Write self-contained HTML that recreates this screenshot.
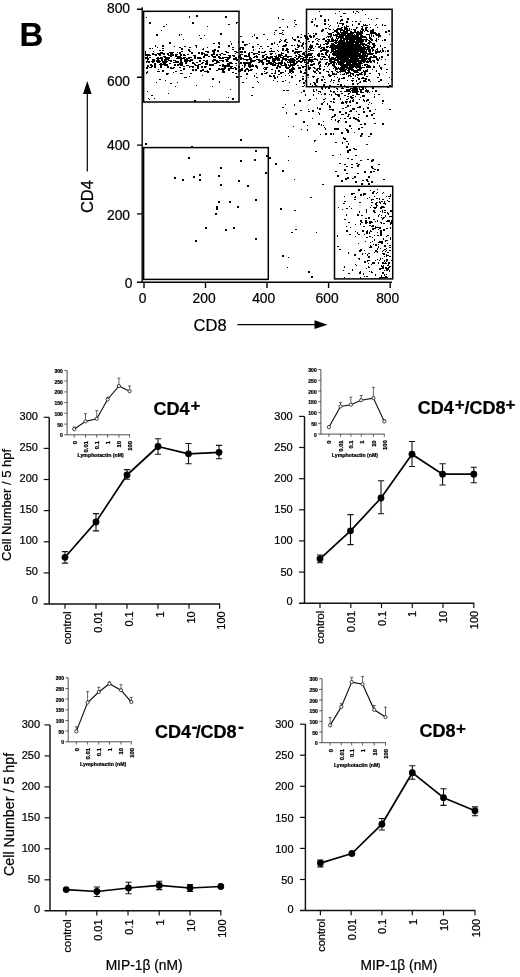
<!DOCTYPE html>
<html><head><meta charset="utf-8"><title>Figure B</title>
<style>
html,body{margin:0;padding:0;background:#fff;}
body{width:520px;height:977px;overflow:hidden;}
svg{display:block;}
text{font-family:"Liberation Sans", Arial, Helvetica, sans-serif;fill:#000;stroke:#000;stroke-width:0.22px;}
</style></head><body>
<svg width="520" height="977" viewBox="0 0 520 977">
<rect width="520" height="977" fill="#fff"/>
<path d="M142.2 7.2V282.8 M137 282.2H392 M137 9.3H142.2 M137 77.3H142.2 M137 145.1H142.2 M137 213.9H142.2" stroke="#000" stroke-width="1.4" fill="none"/>
<path d="M144 282V288 M205.5 282V288 M267 282V288 M328.6 282V288 M390.2 282V288" stroke="#000" stroke-width="1.4" fill="none"/>
<rect x="143.6" y="11.3" width="95.4" height="90.7" fill="none" stroke="#000" stroke-width="1.5"/>
<rect x="306.5" y="9.3" width="85.6" height="77.4" fill="none" stroke="#000" stroke-width="1.5"/>
<rect x="143.6" y="147.6" width="124.7" height="131.8" fill="none" stroke="#000" stroke-width="1.5"/>
<rect x="334.5" y="186.3" width="58.2" height="92.6" fill="none" stroke="#000" stroke-width="1.5"/>
<text x="130" y="13.4" text-anchor="end" font-size="13.8">800</text>
<text x="130" y="85.5" text-anchor="end" font-size="13.8">600</text>
<text x="130" y="149.6" text-anchor="end" font-size="13.8">400</text>
<text x="130" y="219.6" text-anchor="end" font-size="13.8">200</text>
<text x="132.5" y="288.2" text-anchor="end" font-size="13.8">0</text>
<text x="142.6" y="302.6" text-anchor="middle" font-size="13.8">0</text>
<text x="204.1" y="302.6" text-anchor="middle" font-size="13.8">200</text>
<text x="263.7" y="302.6" text-anchor="middle" font-size="13.8">400</text>
<text x="327.1" y="302.6" text-anchor="middle" font-size="13.8">600</text>
<text x="387.7" y="302.6" text-anchor="middle" font-size="13.8">800</text>
<text x="210.1" y="331.4" text-anchor="middle" font-size="16.5">CD8</text>
<path d="M237.5 324.7H316" stroke="#000" stroke-width="1.2"/>
<path d="M314.5 320.3L327.5 324.7L314.5 329.1Z" fill="#000"/>
<text transform="translate(93.3 196.6) rotate(-90)" text-anchor="middle" font-size="16.5">CD4</text>
<path d="M87.3 92V171.5" stroke="#000" stroke-width="1.2"/>
<path d="M83 94L87.3 81L91.6 94Z" fill="#000"/>
<text x="19.4" y="45.7" font-size="33" font-weight="bold">B</text>
<path d="M338 54h2v2h-2zM338 53h2v1h-2zM354 61h2v1h-2zM351 46h1v1h-1zM365 60h1v2h-1zM376 58h2v2h-2zM342 38h1v1h-1zM361 51h1v1h-1zM352 57h1v1h-1zM339 52h2v2h-2zM336 48h2v1h-2zM344 40h1v1h-1zM382 50h2v2h-2zM347 41h1v1h-1zM349 54h1v2h-1zM334 62h1v1h-1zM368 45h1v1h-1zM355 72h2v1h-2zM359 49h1v1h-1zM338 37h1v1h-1zM357 55h2v2h-2zM350 45h1v1h-1zM352 52h1v2h-1zM355 62h1v1h-1zM355 65h1v1h-1zM346 46h1v1h-1zM351 58h2v2h-2zM352 42h2v2h-2zM352 60h2v2h-2zM347 46h2v2h-2zM351 58h1v2h-1zM346 58h1v1h-1zM360 57h1v1h-1zM342 44h2v1h-2zM360 47h2v1h-2zM354 45h1v1h-1zM365 40h1v1h-1zM355 66h2v2h-2zM357 74h2v2h-2zM341 44h1v1h-1zM374 56h1v1h-1zM347 42h2v2h-2zM343 45h1v1h-1zM349 46h1v1h-1zM332 43h2v1h-2zM345 72h1v1h-1zM357 51h1v1h-1zM355 52h1v1h-1zM345 48h1v1h-1zM371 32h1v2h-1zM345 37h1v1h-1zM351 50h2v2h-2zM342 25h1v1h-1zM342 41h1v2h-1zM334 86h1v1h-1zM334 45h2v2h-2zM348 34h1v2h-1zM357 45h1v2h-1zM366 38h1v1h-1zM354 30h2v1h-2zM343 43h2v1h-2zM346 47h2v1h-2zM370 49h1v2h-1zM337 61h2v1h-2zM332 57h1v1h-1zM350 47h2v1h-2zM342 51h1v2h-1zM336 50h2v2h-2zM349 52h1v1h-1zM347 44h1v1h-1zM361 42h1v1h-1zM356 44h1v2h-1zM353 60h2v2h-2zM367 39h1v1h-1zM342 46h1v1h-1zM331 50h2v2h-2zM344 26h1v1h-1zM355 60h1v1h-1zM352 60h2v1h-2zM341 50h2v2h-2zM360 49h1v1h-1zM369 54h1v1h-1zM346 37h1v1h-1zM350 48h1v1h-1zM347 51h2v2h-2zM350 56h1v1h-1zM342 42h2v1h-2zM340 35h2v2h-2zM347 44h2v1h-2zM350 51h2v1h-2zM348 44h1v1h-1zM341 63h2v1h-2zM337 39h1v1h-1zM355 29h1v1h-1zM364 43h1v1h-1zM336 54h2v2h-2zM340 59h2v2h-2zM356 27h2v1h-2zM346 44h1v2h-1zM355 37h1v2h-1zM354 71h2v2h-2zM362 48h1v2h-1zM340 70h2v2h-2zM347 53h1v1h-1zM334 45h2v1h-2zM367 53h1v1h-1zM351 44h1v1h-1zM351 45h1v1h-1zM334 48h2v2h-2zM341 27h2v1h-2zM353 49h1v1h-1zM341 49h1v2h-1zM342 40h2v2h-2zM342 47h1v1h-1zM361 32h1v1h-1zM365 28h2v1h-2zM344 47h2v1h-2zM336 50h1v1h-1zM361 48h1v1h-1zM353 38h2v1h-2zM348 46h2v1h-2zM328 63h2v2h-2zM348 61h1v1h-1zM333 58h2v2h-2zM341 51h1v1h-1zM333 34h1v1h-1zM350 48h1v1h-1zM352 65h1v1h-1zM341 61h1v1h-1zM349 45h2v1h-2zM349 57h2v1h-2zM341 54h1v1h-1zM344 49h1v1h-1zM340 39h2v1h-2zM358 39h2v2h-2zM351 67h2v2h-2zM356 45h1v1h-1zM356 47h2v2h-2zM353 46h1v1h-1zM348 42h1v1h-1zM355 41h1v2h-1zM356 57h1v2h-1zM356 51h1v2h-1zM371 36h1v1h-1zM333 49h2v1h-2zM347 44h1v1h-1zM352 52h2v1h-2zM337 49h1v1h-1zM352 56h2v2h-2zM372 49h1v1h-1zM372 60h2v1h-2zM350 41h2v1h-2zM339 49h2v1h-2zM365 51h2v2h-2zM354 60h1v2h-1zM344 54h1v1h-1zM348 50h2v2h-2zM354 35h2v2h-2zM343 42h2v1h-2zM322 49h2v2h-2zM348 72h1v2h-1zM353 32h1v1h-1zM366 37h1v2h-1zM351 33h1v1h-1zM349 46h1v1h-1zM348 50h1v1h-1zM341 39h1v1h-1zM363 45h1v1h-1zM343 39h2v1h-2zM317 78h2v1h-2zM344 34h2v2h-2zM363 52h1v2h-1zM349 60h1v1h-1zM353 59h1v1h-1zM349 72h2v1h-2zM324 49h2v1h-2zM363 50h2v2h-2zM361 56h1v2h-1zM371 57h1v1h-1zM344 51h2v1h-2zM347 48h2v2h-2zM339 56h2v1h-2zM344 56h1v2h-1zM342 47h1v2h-1zM349 52h1v1h-1zM355 52h1v2h-1zM333 64h1v2h-1zM377 59h2v2h-2zM369 60h1v1h-1zM323 54h1v1h-1zM327 46h1v2h-1zM323 56h2v2h-2zM346 47h2v1h-2zM343 52h1v1h-1zM345 49h1v1h-1zM344 40h1v1h-1zM341 45h1v2h-1zM316 43h2v2h-2zM349 43h1v1h-1zM363 39h2v1h-2zM345 56h1v2h-1zM337 45h2v1h-2zM350 43h1v1h-1zM371 47h2v2h-2zM353 51h1v1h-1zM337 56h1v1h-1zM346 49h1v1h-1zM344 38h2v1h-2zM342 58h1v1h-1zM341 64h2v2h-2zM354 52h2v2h-2zM338 38h1v1h-1zM343 54h2v2h-2zM340 61h2v2h-2zM344 61h1v2h-1zM359 45h1v1h-1zM366 62h1v1h-1zM360 57h2v1h-2zM346 42h1v2h-1zM356 53h1v2h-1zM357 54h1v2h-1zM347 42h1v1h-1zM340 63h1v1h-1zM361 61h2v1h-2zM370 38h2v2h-2zM333 57h1v1h-1zM345 59h2v2h-2zM355 45h1v1h-1zM343 57h1v1h-1zM345 54h2v1h-2zM353 38h2v2h-2zM344 48h1v2h-1zM355 44h1v1h-1zM337 49h2v1h-2zM363 47h2v2h-2zM361 55h1v2h-1zM353 52h1v2h-1zM353 47h2v1h-2zM360 63h2v1h-2zM350 57h1v2h-1zM333 48h1v1h-1zM336 73h1v2h-1zM337 51h1v2h-1zM344 28h1v1h-1zM356 37h2v2h-2zM356 32h2v2h-2zM363 46h2v1h-2zM345 32h1v1h-1zM345 53h1v2h-1zM359 49h1v1h-1zM352 60h1v1h-1zM353 49h1v1h-1zM360 60h1v2h-1zM351 53h2v1h-2zM331 39h1v1h-1zM354 54h1v1h-1zM351 66h2v1h-2zM351 56h1v1h-1zM357 65h1v1h-1zM332 44h2v1h-2zM348 71h2v2h-2zM343 61h2v2h-2zM343 51h1v1h-1zM366 44h1v1h-1zM338 48h1v1h-1zM364 49h1v1h-1zM361 51h1v1h-1zM354 35h2v1h-2zM353 55h1v1h-1zM348 71h2v1h-2zM329 26h1v1h-1zM344 49h1v2h-1zM368 50h2v2h-2zM351 46h1v1h-1zM349 45h2v1h-2zM326 55h2v1h-2zM355 43h1v2h-1zM331 61h1v1h-1zM353 44h2v1h-2zM344 49h2v2h-2zM346 58h1v1h-1zM346 61h1v2h-1zM340 62h1v1h-1zM341 57h2v2h-2zM356 37h1v1h-1zM338 61h1v1h-1zM340 46h1v1h-1zM367 49h1v1h-1zM343 44h1v1h-1zM342 48h1v1h-1zM338 59h1v1h-1zM354 66h1v1h-1zM361 46h1v2h-1zM340 67h1v1h-1zM352 54h1v2h-1zM348 44h1v1h-1zM356 38h1v1h-1zM350 56h1v1h-1zM346 52h2v2h-2zM339 55h2v1h-2zM351 31h1v1h-1zM345 59h1v1h-1zM337 59h2v2h-2zM353 35h2v1h-2zM358 51h1v1h-1zM347 46h1v1h-1zM332 49h2v2h-2zM345 46h1v2h-1zM360 43h1v1h-1zM344 50h1v2h-1zM361 49h1v2h-1zM353 44h2v2h-2zM345 45h1v1h-1zM350 63h1v2h-1zM339 71h1v1h-1zM345 51h2v2h-2zM363 67h2v1h-2zM338 45h1v1h-1zM375 33h2v2h-2zM345 47h2v2h-2zM344 71h1v1h-1zM333 41h1v1h-1zM346 49h1v1h-1zM362 77h2v2h-2zM345 43h1v2h-1zM349 40h2v1h-2zM350 48h1v1h-1zM344 51h1v1h-1zM344 47h2v1h-2zM348 63h1v1h-1zM348 48h1v2h-1zM365 70h2v1h-2zM340 52h2v1h-2zM343 34h1v2h-1zM318 53h2v2h-2zM356 42h1v1h-1zM330 41h2v1h-2zM339 48h2v2h-2zM348 53h1v2h-1zM362 40h2v1h-2zM350 41h2v1h-2zM354 52h1v1h-1zM340 50h1v1h-1zM345 38h1v1h-1zM346 60h1v1h-1zM369 59h2v2h-2zM340 32h1v1h-1zM352 43h1v2h-1zM330 41h1v1h-1zM351 45h2v1h-2zM350 50h1v1h-1zM347 59h1v1h-1zM364 39h1v1h-1zM341 61h1v1h-1zM370 54h1v1h-1zM327 50h2v2h-2zM343 51h1v1h-1zM368 40h1v1h-1zM354 42h2v1h-2zM359 69h2v2h-2zM354 64h1v1h-1zM352 48h1v1h-1zM348 41h2v2h-2zM360 38h1v1h-1zM342 27h1v1h-1zM356 53h1v1h-1zM348 43h1v1h-1zM351 65h1v2h-1zM339 61h2v2h-2zM344 46h1v1h-1zM363 43h1v1h-1zM347 47h2v2h-2zM338 55h2v1h-2zM362 54h1v1h-1zM349 68h1v1h-1zM346 67h1v1h-1zM347 63h1v1h-1zM373 32h1v1h-1zM334 54h1v1h-1zM360 45h1v1h-1zM336 45h1v1h-1zM340 35h2v1h-2zM331 49h1v2h-1zM326 47h1v1h-1zM351 44h2v1h-2zM350 61h1v2h-1zM353 32h1v1h-1zM343 50h2v1h-2zM347 50h2v1h-2zM347 37h2v2h-2zM352 55h1v1h-1zM339 50h1v1h-1zM348 68h1v1h-1zM360 43h2v1h-2zM351 43h1v1h-1zM348 53h1v1h-1zM341 41h1v1h-1zM346 48h2v2h-2zM353 57h1v1h-1zM343 32h1v2h-1zM359 54h1v1h-1zM355 76h1v1h-1zM333 51h2v2h-2zM356 59h1v2h-1zM357 52h2v2h-2zM356 58h1v1h-1zM346 52h1v1h-1zM366 50h1v2h-1zM350 58h2v1h-2zM350 61h2v2h-2zM344 57h2v2h-2zM347 48h1v1h-1zM347 47h1v1h-1zM343 31h2v1h-2zM358 43h1v1h-1zM355 42h1v2h-1zM351 59h1v1h-1zM344 48h1v1h-1zM352 61h1v1h-1zM320 61h1v2h-1zM354 45h1v1h-1zM363 57h1v1h-1zM349 52h1v1h-1zM349 60h2v2h-2zM348 42h1v1h-1zM363 70h1v1h-1zM351 34h2v2h-2zM358 51h1v1h-1zM367 61h1v1h-1zM351 38h1v1h-1zM344 55h1v1h-1zM357 61h1v1h-1zM346 60h2v1h-2zM360 62h1v1h-1zM347 35h1v1h-1zM352 58h1v2h-1zM341 56h2v2h-2zM351 58h1v1h-1zM350 53h1v1h-1zM341 40h2v2h-2zM358 49h1v2h-1zM355 47h1v2h-1zM337 28h2v2h-2zM351 64h1v1h-1zM341 54h1v1h-1zM343 56h2v1h-2zM348 56h1v1h-1zM344 51h1v2h-1zM350 54h1v1h-1zM345 53h2v1h-2zM346 38h1v2h-1zM359 51h1v1h-1zM359 54h1v1h-1zM336 50h2v1h-2zM346 57h1v1h-1zM338 68h2v1h-2zM348 65h1v1h-1zM336 53h2v2h-2zM341 60h2v2h-2zM351 36h2v1h-2zM341 56h1v1h-1zM359 32h1v1h-1zM352 48h1v1h-1zM341 50h1v1h-1zM355 49h1v1h-1zM351 65h1v1h-1zM362 50h1v1h-1zM350 62h1v2h-1zM336 46h2v1h-2zM362 27h1v1h-1zM338 67h1v1h-1zM346 35h1v2h-1zM367 46h1v1h-1zM341 42h2v1h-2zM344 56h1v2h-1zM342 48h1v1h-1zM347 56h2v1h-2zM352 53h1v1h-1zM362 60h1v1h-1zM333 55h2v1h-2zM360 67h2v2h-2zM357 53h2v1h-2zM352 40h1v2h-1zM349 66h1v1h-1zM341 65h2v2h-2zM356 38h1v1h-1zM346 36h2v2h-2zM351 45h1v1h-1zM346 44h1v1h-1zM362 51h2v2h-2zM355 49h1v2h-1zM337 57h1v1h-1zM376 38h1v1h-1zM348 45h1v1h-1zM346 66h2v2h-2zM356 56h1v1h-1zM339 47h1v1h-1zM343 67h2v2h-2zM347 60h2v1h-2zM352 21h1v1h-1zM345 38h2v2h-2zM353 55h1v1h-1zM356 47h2v1h-2zM356 56h1v1h-1zM345 48h2v1h-2zM348 57h2v1h-2zM344 56h1v1h-1zM369 58h1v1h-1zM355 53h2v1h-2zM356 50h2v2h-2zM339 51h2v2h-2zM347 52h2v1h-2zM342 38h1v1h-1zM368 42h2v2h-2zM332 57h1v2h-1zM351 52h1v1h-1zM352 53h1v1h-1zM350 41h2v1h-2zM356 50h2v2h-2zM361 51h2v2h-2zM354 34h1v1h-1zM356 32h1v2h-1zM354 50h2v2h-2zM337 59h1v1h-1zM351 49h2v1h-2zM351 60h1v1h-1zM340 34h1v1h-1zM344 43h1v1h-1zM357 45h1v1h-1zM341 64h1v1h-1zM349 37h1v2h-1zM352 54h1v1h-1zM343 59h1v1h-1zM340 50h1v1h-1zM326 44h1v1h-1zM356 44h1v2h-1zM372 69h1v1h-1zM356 48h1v1h-1zM348 44h1v1h-1zM339 28h1v1h-1zM353 59h2v2h-2zM358 62h1v1h-1zM345 44h2v1h-2zM364 37h2v1h-2zM337 50h1v1h-1zM357 37h2v1h-2zM344 41h1v1h-1zM351 64h2v1h-2zM347 50h2v1h-2zM337 54h2v1h-2zM355 48h2v1h-2zM366 49h1v1h-1zM347 19h1v1h-1zM353 46h2v2h-2zM342 50h2v2h-2zM336 31h2v2h-2zM353 38h2v2h-2zM368 58h1v2h-1zM349 69h2v1h-2zM330 45h1v1h-1zM347 64h1v1h-1zM333 44h2v1h-2zM350 68h2v2h-2zM351 37h2v2h-2zM351 44h1v1h-1zM352 52h1v1h-1zM362 35h1v1h-1zM354 59h2v2h-2zM334 35h1v1h-1zM356 49h2v1h-2zM361 38h1v1h-1zM344 41h1v1h-1zM345 58h2v1h-2zM347 64h1v2h-1zM352 55h1v2h-1zM344 51h1v1h-1zM362 45h1v1h-1zM360 81h1v2h-1zM349 40h1v1h-1zM345 53h2v1h-2zM333 59h1v1h-1zM338 53h2v2h-2zM341 63h1v1h-1zM342 46h2v2h-2zM345 70h1v2h-1zM328 57h1v1h-1zM349 36h1v1h-1zM359 54h1v1h-1zM327 59h1v1h-1zM345 36h1v1h-1zM345 53h2v2h-2zM349 61h1v1h-1zM358 32h2v1h-2zM345 49h2v2h-2zM357 55h1v1h-1zM347 35h1v1h-1zM369 35h1v1h-1zM342 41h1v1h-1zM341 52h1v2h-1zM329 33h2v2h-2zM359 50h2v2h-2zM341 37h2v2h-2zM359 55h1v1h-1zM346 44h2v2h-2zM352 59h1v1h-1zM337 60h1v1h-1zM357 63h2v1h-2zM349 42h2v2h-2zM347 32h1v1h-1zM348 50h2v2h-2zM369 43h1v1h-1zM342 60h2v1h-2zM363 62h1v1h-1zM344 50h2v1h-2zM352 53h2v1h-2zM345 67h1v1h-1zM347 52h1v1h-1zM338 54h2v1h-2zM352 46h2v2h-2zM364 72h2v1h-2zM338 58h2v2h-2zM359 48h1v1h-1zM360 65h1v2h-1zM348 44h2v1h-2zM354 51h1v1h-1zM363 47h2v2h-2zM359 53h1v1h-1zM349 55h2v2h-2zM344 60h1v2h-1zM367 34h2v1h-2zM328 50h1v1h-1zM345 66h1v1h-1zM342 58h2v1h-2zM343 58h2v1h-2zM367 56h1v1h-1zM337 48h1v1h-1zM350 55h1v1h-1zM345 61h1v1h-1zM349 38h1v1h-1zM328 65h1v1h-1zM329 36h1v1h-1zM342 44h1v1h-1zM339 41h1v1h-1zM338 50h1v2h-1zM354 51h1v1h-1zM347 68h1v1h-1zM356 42h1v1h-1zM348 46h2v2h-2zM354 42h1v1h-1zM357 34h2v1h-2zM365 56h1v1h-1zM341 41h2v2h-2zM348 48h2v2h-2zM350 37h1v1h-1zM349 39h1v2h-1zM371 48h1v1h-1zM352 39h1v2h-1zM342 58h1v1h-1zM356 56h1v2h-1zM354 52h2v2h-2zM343 39h1v1h-1zM356 56h2v2h-2zM329 41h1v1h-1zM339 56h2v2h-2zM364 65h2v1h-2zM360 52h1v1h-1zM339 29h2v1h-2zM346 41h1v2h-1zM362 60h1v1h-1zM344 46h1v1h-1zM354 58h2v1h-2zM340 49h2v1h-2zM355 42h2v1h-2zM322 54h1v1h-1zM347 43h1v1h-1zM348 37h1v1h-1zM366 57h1v1h-1zM347 39h2v1h-2zM325 40h2v2h-2zM339 53h1v1h-1zM350 45h1v1h-1zM351 48h1v2h-1zM338 45h1v1h-1zM363 70h1v2h-1zM351 46h1v2h-1zM351 57h2v1h-2zM346 47h1v2h-1zM331 39h2v2h-2zM346 41h2v2h-2zM348 42h2v2h-2zM348 42h1v1h-1zM362 52h1v1h-1zM348 58h1v1h-1zM342 51h1v1h-1zM347 62h2v2h-2zM360 67h2v2h-2zM340 42h1v2h-1zM335 47h2v2h-2zM351 42h1v1h-1zM358 46h1v2h-1zM351 61h1v1h-1zM346 26h2v1h-2zM341 46h1v1h-1zM354 48h2v2h-2zM347 47h2v2h-2zM360 58h1v1h-1zM358 49h2v2h-2zM363 56h1v1h-1zM362 52h2v2h-2zM342 32h1v2h-1zM346 49h2v1h-2zM354 61h1v1h-1zM343 50h1v2h-1zM340 56h1v1h-1zM337 51h2v2h-2zM345 48h1v1h-1zM342 64h2v2h-2zM373 46h2v2h-2zM364 31h1v1h-1zM336 51h1v2h-1zM339 41h2v2h-2zM360 56h2v2h-2zM354 51h2v2h-2zM352 49h1v1h-1zM357 36h2v1h-2zM335 42h2v2h-2zM353 50h1v2h-1zM368 47h1v1h-1zM345 58h1v1h-1zM350 42h2v1h-2zM341 48h1v2h-1zM343 52h2v2h-2zM352 55h1v1h-1zM333 52h1v1h-1zM351 65h1v1h-1zM342 49h2v2h-2zM352 57h1v1h-1zM342 64h1v2h-1zM353 38h1v1h-1zM350 42h1v1h-1zM324 66h1v1h-1zM336 68h2v2h-2zM345 54h1v2h-1zM351 41h1v2h-1zM344 56h2v1h-2zM349 38h2v2h-2zM361 51h1v1h-1zM369 59h1v1h-1zM355 70h2v2h-2zM358 46h2v2h-2zM359 63h2v2h-2zM351 55h1v2h-1zM361 39h2v2h-2zM340 53h1v1h-1zM346 74h1v1h-1zM353 59h1v1h-1zM347 56h1v1h-1zM337 48h2v1h-2zM350 38h2v2h-2zM356 54h1v1h-1zM343 66h2v2h-2zM344 50h1v1h-1zM342 46h1v2h-1zM360 48h2v1h-2zM356 41h1v1h-1zM375 40h1v1h-1zM350 40h1v1h-1zM353 55h1v2h-1zM350 52h1v1h-1zM353 39h1v2h-1zM343 51h1v1h-1zM349 53h1v1h-1zM343 43h2v1h-2zM343 44h1v1h-1zM359 41h1v1h-1zM339 47h1v1h-1zM356 46h2v2h-2zM362 33h1v1h-1zM321 48h1v1h-1zM357 64h1v1h-1zM345 47h2v2h-2zM349 55h1v2h-1zM342 61h2v1h-2zM360 44h1v1h-1zM361 50h1v1h-1zM337 44h2v1h-2zM359 56h2v1h-2zM333 29h1v1h-1zM346 52h1v2h-1zM351 69h1v2h-1zM349 72h2v1h-2zM338 56h2v2h-2zM338 51h1v1h-1zM356 40h1v1h-1zM352 57h2v2h-2zM358 23h2v2h-2zM343 33h1v2h-1zM356 33h1v1h-1zM353 42h1v1h-1zM351 49h2v1h-2zM340 65h2v1h-2zM369 37h2v1h-2zM363 56h1v1h-1zM369 48h1v1h-1zM355 64h1v2h-1zM363 49h1v1h-1zM349 46h2v2h-2zM352 32h2v2h-2zM328 40h2v1h-2zM340 51h1v1h-1zM355 51h1v2h-1zM351 65h1v2h-1zM345 38h1v1h-1zM349 57h2v1h-2zM340 28h1v1h-1zM369 40h1v1h-1zM363 46h2v2h-2zM351 41h1v1h-1zM338 48h1v1h-1zM357 40h2v1h-2zM349 42h1v1h-1zM343 46h1v1h-1zM352 51h1v1h-1zM326 46h2v1h-2zM341 55h1v1h-1zM325 54h1v1h-1zM336 56h1v2h-1zM336 45h2v2h-2zM356 46h2v1h-2zM362 50h1v1h-1zM350 47h1v1h-1zM342 47h1v2h-1zM348 41h1v2h-1zM340 37h2v1h-2zM345 52h2v1h-2zM369 44h1v1h-1zM357 53h1v2h-1zM345 52h1v1h-1zM335 43h1v1h-1zM341 38h2v1h-2zM364 55h1v1h-1zM360 54h1v1h-1zM358 54h2v1h-2zM369 66h2v2h-2zM336 51h1v1h-1zM354 49h1v1h-1zM353 70h2v1h-2zM341 55h2v2h-2zM349 68h1v2h-1zM341 53h1v1h-1zM341 53h2v1h-2zM342 55h1v2h-1zM339 53h2v2h-2zM340 53h2v2h-2zM367 47h1v1h-1zM342 35h1v1h-1zM346 25h1v2h-1zM344 40h1v2h-1zM352 67h2v1h-2zM358 49h1v2h-1zM360 51h1v2h-1zM349 64h1v1h-1zM324 69h1v1h-1zM352 48h2v1h-2zM358 32h1v1h-1zM336 41h1v2h-1zM349 37h1v1h-1zM346 37h2v1h-2zM355 50h1v2h-1zM342 65h2v2h-2zM348 63h2v1h-2zM344 50h2v1h-2zM361 41h1v1h-1zM353 40h1v1h-1zM341 43h2v1h-2zM362 49h2v2h-2zM340 64h1v1h-1zM345 65h1v2h-1zM354 41h1v1h-1zM342 60h1v1h-1zM339 61h1v1h-1zM342 69h2v2h-2zM350 56h1v1h-1zM364 59h1v2h-1zM348 62h1v2h-1zM367 53h2v2h-2zM353 65h1v2h-1zM339 68h1v1h-1zM341 51h1v1h-1zM354 38h2v1h-2zM356 49h1v1h-1zM345 46h2v2h-2zM344 59h1v1h-1zM360 30h1v2h-1zM354 58h1v2h-1zM354 71h2v2h-2zM351 60h1v1h-1zM349 47h1v2h-1zM367 58h2v1h-2zM346 48h1v1h-1zM332 74h2v1h-2zM352 47h1v1h-1zM365 52h1v1h-1zM347 65h1v2h-1zM345 60h1v1h-1zM341 46h1v1h-1zM350 58h1v1h-1zM358 51h2v1h-2zM349 55h2v2h-2zM338 52h1v1h-1zM362 39h2v1h-2zM341 37h2v1h-2zM341 55h2v1h-2zM338 52h2v1h-2zM354 29h1v1h-1zM358 51h1v1h-1zM353 36h1v1h-1zM357 69h2v2h-2zM343 36h1v2h-1zM340 53h2v1h-2zM372 29h2v2h-2zM351 47h1v1h-1zM362 48h2v1h-2zM342 69h2v1h-2zM353 50h2v2h-2zM355 50h1v1h-1zM346 46h2v1h-2zM359 46h1v2h-1zM339 43h1v1h-1zM329 55h1v2h-1zM352 61h2v1h-2zM343 61h2v1h-2zM356 51h1v2h-1zM350 54h1v2h-1zM337 72h2v1h-2zM361 59h1v1h-1zM356 35h1v2h-1zM352 51h1v2h-1zM354 55h1v1h-1zM355 60h2v2h-2zM346 57h2v2h-2zM355 63h2v1h-2zM352 49h2v1h-2zM336 63h1v1h-1zM348 44h2v1h-2zM357 49h1v1h-1zM362 42h1v1h-1zM352 57h1v1h-1zM358 37h2v2h-2zM343 37h1v1h-1zM347 38h1v1h-1zM340 51h2v1h-2zM352 51h2v2h-2zM343 57h1v1h-1zM331 38h1v1h-1zM338 50h1v2h-1zM343 47h1v1h-1zM349 46h2v2h-2zM356 51h2v1h-2zM357 38h1v2h-1zM351 34h1v1h-1zM352 45h1v1h-1zM352 51h2v2h-2zM346 53h1v1h-1zM357 39h2v2h-2zM354 51h1v1h-1zM351 55h1v1h-1zM346 45h1v1h-1zM340 48h1v1h-1zM339 45h1v1h-1zM347 50h2v1h-2zM353 59h1v1h-1zM359 41h1v1h-1zM327 44h1v1h-1zM338 61h1v1h-1zM344 29h1v1h-1zM348 58h1v2h-1zM353 35h2v2h-2zM353 59h2v2h-2zM350 45h2v2h-2zM348 30h1v1h-1zM330 34h2v2h-2zM331 40h2v2h-2zM357 37h2v2h-2zM356 58h2v1h-2zM361 63h1v1h-1zM344 44h1v1h-1zM344 46h1v1h-1zM367 27h1v1h-1zM339 62h1v1h-1zM353 44h2v1h-2zM349 50h1v1h-1zM358 50h1v1h-1zM363 49h1v1h-1zM348 43h2v1h-2zM346 30h2v2h-2zM342 54h1v1h-1zM343 65h2v1h-2zM347 45h1v2h-1zM356 49h2v1h-2zM351 52h1v1h-1zM356 65h2v1h-2zM338 26h1v1h-1zM352 52h2v1h-2zM356 36h2v1h-2zM355 42h1v1h-1zM348 48h1v1h-1zM355 51h1v1h-1zM344 49h2v1h-2zM354 42h1v1h-1zM342 36h2v2h-2zM337 46h2v2h-2zM338 25h1v1h-1zM352 36h2v1h-2zM361 51h1v1h-1zM340 43h2v1h-2zM354 52h2v1h-2zM337 22h1v2h-1zM347 61h2v1h-2zM353 40h2v2h-2zM340 51h2v1h-2zM325 82h1v1h-1zM346 52h1v2h-1zM353 55h1v1h-1zM336 40h1v1h-1zM347 59h2v2h-2zM350 52h2v2h-2zM344 51h1v1h-1zM362 39h1v1h-1zM346 44h1v1h-1zM347 48h2v2h-2zM347 55h1v2h-1zM352 52h1v2h-1zM329 54h1v2h-1zM350 53h2v1h-2zM341 52h2v2h-2zM353 64h1v1h-1zM371 39h2v1h-2zM343 65h2v2h-2zM350 47h2v1h-2zM357 60h2v2h-2zM354 44h2v1h-2zM347 56h1v2h-1zM350 41h1v1h-1zM344 34h2v1h-2zM353 53h1v1h-1zM355 39h2v1h-2zM343 57h1v1h-1zM363 48h1v1h-1zM346 37h2v1h-2zM351 36h2v2h-2zM359 48h2v1h-2zM342 57h1v1h-1zM344 42h1v1h-1zM360 35h1v2h-1zM355 42h2v1h-2zM349 59h1v1h-1zM356 28h1v1h-1zM346 54h1v1h-1zM336 34h1v1h-1zM349 67h1v1h-1zM356 43h2v1h-2zM352 58h1v1h-1zM347 66h1v1h-1zM338 36h1v1h-1zM351 55h1v1h-1zM353 37h1v1h-1zM337 54h1v1h-1zM360 52h1v1h-1zM359 48h2v2h-2zM358 40h1v1h-1zM351 46h2v1h-2zM353 53h1v1h-1zM366 76h2v1h-2zM369 35h1v2h-1zM343 41h1v2h-1zM347 45h2v1h-2zM339 56h1v2h-1zM345 38h1v2h-1zM351 46h1v1h-1zM355 52h2v2h-2zM346 60h2v1h-2zM342 47h1v2h-1zM340 67h2v2h-2zM362 50h1v1h-1zM352 47h1v1h-1zM351 36h1v2h-1zM339 56h1v1h-1zM342 52h1v2h-1zM354 53h1v1h-1zM337 47h1v1h-1zM368 48h1v1h-1zM359 66h2v2h-2zM357 65h2v2h-2zM356 47h1v1h-1zM353 56h2v2h-2zM359 44h1v1h-1zM345 56h2v1h-2zM346 33h1v1h-1zM339 53h1v1h-1zM335 54h1v2h-1zM344 62h1v1h-1zM359 53h1v1h-1zM353 51h1v1h-1zM367 43h1v1h-1zM346 59h1v1h-1zM358 60h2v2h-2zM345 54h1v1h-1zM366 52h1v1h-1zM347 32h1v1h-1zM353 58h1v2h-1zM349 41h2v1h-2zM343 59h1v2h-1zM348 69h2v2h-2zM330 35h2v2h-2zM364 78h1v1h-1zM351 45h1v1h-1zM332 57h1v2h-1zM355 71h2v2h-2zM346 50h1v1h-1zM347 60h2v2h-2zM335 39h1v1h-1zM350 67h1v1h-1zM350 54h1v1h-1zM339 57h1v1h-1zM342 47h1v1h-1zM345 42h2v1h-2zM344 56h1v1h-1zM347 58h1v1h-1zM361 52h1v1h-1zM356 43h1v1h-1zM347 50h1v1h-1zM352 37h2v1h-2zM340 64h2v1h-2zM354 31h2v2h-2zM347 35h2v1h-2zM337 47h2v1h-2zM358 32h1v1h-1zM350 36h2v1h-2zM352 48h2v1h-2zM333 68h1v1h-1zM344 48h1v2h-1zM334 51h1v1h-1zM350 49h1v1h-1zM347 29h1v2h-1zM349 54h1v2h-1zM349 46h2v2h-2zM347 50h2v1h-2zM347 54h2v2h-2zM354 48h1v1h-1zM347 65h1v1h-1zM344 59h2v1h-2zM337 55h2v2h-2zM369 41h2v2h-2zM350 58h2v1h-2zM341 39h1v1h-1zM358 50h1v1h-1zM355 54h1v2h-1zM351 47h1v1h-1zM350 68h2v2h-2zM349 55h2v2h-2zM365 47h2v1h-2zM349 33h2v1h-2zM348 62h1v2h-1zM343 63h1v1h-1zM356 49h1v1h-1zM373 44h2v2h-2zM360 33h2v2h-2zM346 48h1v2h-1zM359 33h1v1h-1zM364 56h2v1h-2zM373 31h1v1h-1zM343 37h1v2h-1zM340 61h1v1h-1zM362 40h2v2h-2zM343 52h2v1h-2zM344 38h1v1h-1zM359 50h1v1h-1zM351 57h1v1h-1zM342 29h1v2h-1zM369 53h2v1h-2zM348 36h1v1h-1zM347 53h1v2h-1zM363 55h2v2h-2zM343 38h2v2h-2zM367 45h2v2h-2zM348 50h2v1h-2zM337 34h2v1h-2zM349 51h2v2h-2zM329 29h2v1h-2zM360 36h2v2h-2zM329 55h1v1h-1zM358 51h1v1h-1zM359 50h1v1h-1zM348 46h1v1h-1zM346 53h2v1h-2zM334 59h1v1h-1zM356 49h2v1h-2zM350 52h1v1h-1zM356 45h2v1h-2zM342 49h2v1h-2zM358 54h1v1h-1zM356 34h1v2h-1zM333 39h1v2h-1zM354 52h1v2h-1zM365 24h1v2h-1zM356 61h2v1h-2zM345 47h2v2h-2zM342 49h2v2h-2zM347 53h1v2h-1zM349 57h1v1h-1zM343 44h1v2h-1zM374 32h2v2h-2zM356 46h2v2h-2zM360 57h1v1h-1zM369 65h1v1h-1zM347 38h1v1h-1zM350 47h2v2h-2zM354 39h1v1h-1zM364 53h1v1h-1zM327 46h1v2h-1zM361 61h1v2h-1zM341 65h2v1h-2zM339 56h1v1h-1zM345 71h1v1h-1zM351 40h1v1h-1zM375 50h1v2h-1zM362 48h1v1h-1zM351 53h2v1h-2zM332 32h1v1h-1zM350 57h1v1h-1zM361 52h1v1h-1zM333 68h1v1h-1zM355 39h1v1h-1zM363 53h2v2h-2zM364 55h1v1h-1zM342 32h1v2h-1zM350 56h2v2h-2zM369 38h2v1h-2zM358 53h2v2h-2zM357 53h1v1h-1zM356 43h1v1h-1zM345 55h1v1h-1zM339 40h1v1h-1zM346 49h1v1h-1zM352 43h2v2h-2zM350 60h1v2h-1zM362 50h2v1h-2zM344 26h1v2h-1zM351 57h2v1h-2zM347 63h1v1h-1zM346 40h1v1h-1zM366 66h2v2h-2zM357 43h2v2h-2zM357 64h2v2h-2zM350 51h1v1h-1zM365 59h2v1h-2zM345 51h2v1h-2zM353 54h2v1h-2zM339 36h2v2h-2zM355 57h1v1h-1zM347 50h2v2h-2zM342 33h2v1h-2zM365 40h2v2h-2zM352 43h1v1h-1zM365 56h2v1h-2zM358 49h1v1h-1zM367 30h1v2h-1zM366 34h1v1h-1zM347 48h1v2h-1zM361 46h1v1h-1zM346 48h2v1h-2zM358 55h2v2h-2zM348 30h2v1h-2zM346 51h1v2h-1zM340 46h1v1h-1zM346 51h1v1h-1zM359 55h1v1h-1zM356 38h2v2h-2zM344 48h1v1h-1zM356 39h2v1h-2zM347 48h1v1h-1zM332 58h2v2h-2zM343 46h1v1h-1zM340 46h2v2h-2zM351 57h1v1h-1zM367 53h2v2h-2zM350 51h2v1h-2zM350 64h2v2h-2zM349 42h2v1h-2zM345 67h1v1h-1zM360 39h2v2h-2zM336 71h2v1h-2zM349 65h1v1h-1zM352 52h2v1h-2zM350 55h1v2h-1zM360 63h1v1h-1zM335 68h2v2h-2zM363 25h2v1h-2zM362 44h2v1h-2zM345 59h2v1h-2zM350 65h2v2h-2zM348 43h1v1h-1zM342 58h2v2h-2zM338 46h2v1h-2zM336 45h2v1h-2zM343 48h1v1h-1zM331 58h2v2h-2zM346 63h2v1h-2zM344 52h1v2h-1zM356 54h1v1h-1zM351 56h1v1h-1zM344 49h2v1h-2zM338 42h2v1h-2zM343 44h2v1h-2zM347 43h1v2h-1zM327 36h2v1h-2zM334 45h1v1h-1zM342 58h1v2h-1zM348 44h2v2h-2zM361 49h2v2h-2zM343 43h1v1h-1zM363 51h1v2h-1zM337 38h1v1h-1zM349 36h2v1h-2zM336 45h2v1h-2zM362 58h1v2h-1zM326 62h2v1h-2zM355 61h1v1h-1zM360 68h1v1h-1zM348 44h2v1h-2zM354 50h2v2h-2zM376 51h2v2h-2zM336 55h2v1h-2zM354 58h1v1h-1zM353 46h2v1h-2zM337 52h1v2h-1zM342 45h2v2h-2zM343 45h2v1h-2zM352 48h2v1h-2zM341 51h1v1h-1zM351 61h1v1h-1zM343 45h2v1h-2zM332 53h2v2h-2zM352 78h2v1h-2zM346 57h1v2h-1zM336 56h1v1h-1zM354 44h2v2h-2zM340 54h2v1h-2zM337 48h2v1h-2zM365 45h1v1h-1zM351 50h1v1h-1zM353 43h1v1h-1zM355 61h2v2h-2zM355 51h1v1h-1zM358 53h2v1h-2zM363 47h2v2h-2zM331 38h1v2h-1zM350 60h2v1h-2zM367 65h2v1h-2zM353 61h2v2h-2zM348 63h1v1h-1zM350 57h2v1h-2zM347 43h1v2h-1zM335 41h2v2h-2zM333 80h2v1h-2zM343 50h1v1h-1zM347 46h1v1h-1zM360 56h1v1h-1zM348 67h1v1h-1zM358 62h2v2h-2zM342 42h2v1h-2zM344 31h1v2h-1zM350 68h1v1h-1zM358 59h1v1h-1zM342 47h2v2h-2zM333 58h2v2h-2zM333 55h2v1h-2zM345 53h1v2h-1zM363 43h1v1h-1zM340 48h1v1h-1zM350 49h2v1h-2zM344 50h1v2h-1zM349 60h1v1h-1zM341 44h1v2h-1zM334 58h2v1h-2zM359 57h1v1h-1zM342 74h2v1h-2zM349 44h2v1h-2zM355 55h1v1h-1zM371 53h2v2h-2zM348 51h1v2h-1zM348 47h1v2h-1zM356 53h1v2h-1zM350 43h2v1h-2zM354 37h2v1h-2zM351 54h1v1h-1zM336 48h2v1h-2zM341 40h2v1h-2zM334 60h2v1h-2zM370 30h2v2h-2zM352 35h2v1h-2zM350 55h1v2h-1zM350 64h2v1h-2zM341 43h1v1h-1zM344 65h2v2h-2zM346 58h1v1h-1zM337 56h1v2h-1zM351 32h1v2h-1zM360 48h1v1h-1zM345 43h2v2h-2zM339 56h2v1h-2zM349 51h1v1h-1zM326 54h1v1h-1zM371 34h1v2h-1zM349 52h2v2h-2zM357 54h2v2h-2zM341 33h2v2h-2zM355 61h1v1h-1zM341 58h2v2h-2zM346 65h1v1h-1zM349 54h2v1h-2zM336 42h1v1h-1zM364 44h2v1h-2zM354 45h1v1h-1zM337 46h2v2h-2zM348 47h2v2h-2zM343 51h1v2h-1zM336 36h2v1h-2zM349 61h2v1h-2zM342 61h1v1h-1zM349 55h1v1h-1zM334 47h1v1h-1zM360 42h1v2h-1zM345 71h1v1h-1zM354 44h2v2h-2zM347 44h1v2h-1zM355 58h1v1h-1zM345 58h1v1h-1zM346 53h1v2h-1zM340 63h1v1h-1zM369 47h1v2h-1zM361 31h2v2h-2zM338 57h1v1h-1zM344 57h2v1h-2zM366 51h1v1h-1zM340 55h2v2h-2zM346 46h1v2h-1zM351 64h1v1h-1zM360 47h1v1h-1zM340 74h1v1h-1zM350 63h1v2h-1zM353 48h1v1h-1zM348 38h1v2h-1zM348 46h1v1h-1zM353 58h1v1h-1zM348 55h1v1h-1zM333 47h1v1h-1zM363 59h1v1h-1zM357 59h1v1h-1zM352 38h2v1h-2zM348 52h2v2h-2zM335 62h1v1h-1zM338 55h1v1h-1zM370 61h2v2h-2zM362 50h1v2h-1zM341 43h1v1h-1zM343 41h1v2h-1zM357 52h1v1h-1zM350 38h1v1h-1zM352 38h1v1h-1zM349 50h1v1h-1zM374 56h2v2h-2zM327 43h2v1h-2zM348 46h1v1h-1zM342 43h1v2h-1zM342 62h1v1h-1zM339 51h2v1h-2zM356 53h1v2h-1zM355 60h2v2h-2zM337 39h1v2h-1zM359 48h1v1h-1zM350 48h2v1h-2zM348 63h1v2h-1zM357 41h1v2h-1zM362 57h2v2h-2zM341 42h2v1h-2zM344 53h1v1h-1zM353 38h1v1h-1zM336 37h1v2h-1zM360 73h1v1h-1zM339 49h1v1h-1zM349 57h1v1h-1zM363 54h1v2h-1zM349 75h1v1h-1zM328 56h2v1h-2zM334 54h1v2h-1zM348 54h1v2h-1zM349 36h1v1h-1zM349 44h1v2h-1zM339 40h1v1h-1zM339 62h1v1h-1zM359 53h2v2h-2zM345 45h1v1h-1zM359 33h1v2h-1zM354 66h1v1h-1zM354 58h2v2h-2zM355 51h1v2h-1zM350 42h1v1h-1zM365 29h2v2h-2zM346 48h1v2h-1zM339 34h1v2h-1zM323 50h2v1h-2zM336 55h1v2h-1zM330 37h1v1h-1zM366 37h1v1h-1zM363 52h2v1h-2zM362 47h1v2h-1zM350 44h1v2h-1zM343 53h1v1h-1zM339 63h2v1h-2zM348 53h1v2h-1zM350 31h1v2h-1zM357 53h2v1h-2zM344 68h1v1h-1zM360 51h1v1h-1zM363 52h2v1h-2zM346 49h2v1h-2zM341 49h1v1h-1zM356 60h1v1h-1zM337 42h1v1h-1zM344 45h1v2h-1zM353 63h1v2h-1zM353 38h2v2h-2zM367 48h1v1h-1zM348 64h1v1h-1zM351 54h1v2h-1zM333 65h2v2h-2zM341 48h1v1h-1zM354 52h2v2h-2zM349 51h2v2h-2zM337 62h2v1h-2zM353 49h2v1h-2zM348 48h2v2h-2zM342 63h1v1h-1zM353 52h1v2h-1zM370 42h2v1h-2zM364 60h2v1h-2zM352 36h2v1h-2zM352 55h1v1h-1zM342 53h2v2h-2zM365 55h1v1h-1zM367 64h1v1h-1zM339 42h1v1h-1zM346 55h1v2h-1zM340 60h2v2h-2zM359 55h1v1h-1zM362 44h1v1h-1zM348 50h2v1h-2zM354 52h2v1h-2zM343 48h2v1h-2zM344 65h1v1h-1zM355 41h1v1h-1zM346 64h1v1h-1zM355 46h1v1h-1zM359 55h2v2h-2zM352 56h2v1h-2zM346 46h1v1h-1zM344 45h1v1h-1zM343 31h2v2h-2zM354 44h1v1h-1zM339 42h2v1h-2zM343 48h1v1h-1zM352 52h2v1h-2zM367 61h2v2h-2zM365 71h2v1h-2zM359 50h1v1h-1zM348 54h1v1h-1zM360 51h2v1h-2zM352 73h2v2h-2zM332 50h1v1h-1zM350 32h1v1h-1zM349 41h1v1h-1zM345 52h1v2h-1zM349 62h2v2h-2zM332 37h1v2h-1zM344 34h1v2h-1zM361 43h1v2h-1zM338 46h2v2h-2zM348 56h2v1h-2zM344 65h2v1h-2zM356 50h2v1h-2zM338 59h2v1h-2zM361 60h2v2h-2zM361 58h2v1h-2zM341 42h2v1h-2zM369 49h1v1h-1zM355 36h2v2h-2zM353 50h1v1h-1zM352 69h2v2h-2zM353 70h2v2h-2zM346 31h2v2h-2zM357 49h2v2h-2zM344 73h1v2h-1zM346 65h2v2h-2zM362 10h1v1h-1zM330 33h2v2h-2zM348 39h1v1h-1zM356 63h2v1h-2zM346 60h1v1h-1zM338 25h1v1h-1zM303 48h1v1h-1zM320 46h1v1h-1zM370 32h1v2h-1zM339 68h2v2h-2zM357 54h2v1h-2zM359 49h1v1h-1zM321 59h2v1h-2zM347 48h1v1h-1zM327 39h1v1h-1zM362 59h1v1h-1zM345 60h1v1h-1zM324 21h2v1h-2zM358 48h2v1h-2zM328 75h2v1h-2zM322 29h2v2h-2zM362 65h1v1h-1zM339 48h1v2h-1zM349 54h2v2h-2zM359 61h2v1h-2zM377 62h1v2h-1zM368 67h1v1h-1zM343 51h1v1h-1zM330 58h1v2h-1zM364 46h1v1h-1zM357 77h1v1h-1zM353 62h1v1h-1zM359 37h2v2h-2zM328 56h1v1h-1zM327 66h1v1h-1zM338 55h1v1h-1zM344 61h2v1h-2zM362 55h1v1h-1zM364 80h1v2h-1zM357 46h1v1h-1zM342 70h2v2h-2zM367 25h1v1h-1zM365 54h1v1h-1zM366 53h1v1h-1zM358 44h1v1h-1zM365 80h1v1h-1zM339 56h1v1h-1zM377 51h1v2h-1zM321 87h2v2h-2zM342 43h1v1h-1zM331 47h2v2h-2zM381 52h1v1h-1zM373 50h1v1h-1zM361 91h1v2h-1zM349 28h1v1h-1zM363 47h1v2h-1zM331 47h2v1h-2zM378 37h1v1h-1zM356 44h1v1h-1zM348 56h1v1h-1zM344 53h1v1h-1zM352 39h1v1h-1zM330 61h1v1h-1zM334 66h1v2h-1zM306 79h1v1h-1zM350 45h2v2h-2zM340 49h2v2h-2zM357 46h2v2h-2zM365 48h1v2h-1zM346 32h1v1h-1zM338 79h1v2h-1zM356 50h2v1h-2zM347 41h1v1h-1zM373 35h1v2h-1zM341 67h2v2h-2zM373 66h1v2h-1zM309 61h2v1h-2zM358 45h1v1h-1zM345 70h1v2h-1zM387 50h2v2h-2zM377 48h1v2h-1zM365 61h2v1h-2zM379 73h1v1h-1zM350 59h2v1h-2zM329 85h2v1h-2zM341 56h1v1h-1zM341 32h2v1h-2zM333 51h2v2h-2zM362 56h1v2h-1zM344 65h1v1h-1zM342 78h1v1h-1zM325 43h1v1h-1zM348 37h2v1h-2zM362 60h2v1h-2zM335 40h1v1h-1zM317 44h1v1h-1zM356 74h1v1h-1zM355 56h2v1h-2zM372 33h2v1h-2zM373 30h1v1h-1zM316 81h2v2h-2zM335 35h1v1h-1zM363 60h1v1h-1zM333 35h2v1h-2zM351 52h1v1h-1zM363 61h2v2h-2zM320 58h1v1h-1zM331 75h1v1h-1zM347 31h1v2h-1zM366 55h2v2h-2zM340 61h2v2h-2zM328 39h2v1h-2zM338 41h1v1h-1zM347 63h1v2h-1zM357 56h2v1h-2zM380 50h1v2h-1zM349 41h2v1h-2zM370 54h1v1h-1zM356 57h1v1h-1zM338 54h1v1h-1zM380 79h2v2h-2zM358 48h1v1h-1zM352 50h1v1h-1zM324 19h2v2h-2zM358 40h1v2h-1zM384 39h2v2h-2zM352 24h1v2h-1zM330 62h2v2h-2zM347 50h1v1h-1zM368 34h2v1h-2zM376 41h1v1h-1zM340 21h1v1h-1zM367 45h2v2h-2zM365 53h1v1h-1zM355 75h1v2h-1zM328 24h1v1h-1zM346 68h1v2h-1zM323 47h2v2h-2zM325 49h2v2h-2zM355 44h1v1h-1zM342 24h1v1h-1zM367 30h1v1h-1zM364 71h2v1h-2zM370 81h1v1h-1zM371 19h1v1h-1zM343 33h2v2h-2zM334 58h1v1h-1zM359 40h2v2h-2zM385 59h1v1h-1zM343 13h1v1h-1zM335 43h1v1h-1zM361 36h2v2h-2zM360 54h1v1h-1zM351 49h1v1h-1zM338 63h2v2h-2zM358 43h1v2h-1zM332 73h1v2h-1zM367 60h1v1h-1zM329 57h1v2h-1zM333 63h2v2h-2zM345 42h1v1h-1zM344 91h1v1h-1zM382 24h1v2h-1zM331 71h2v1h-2zM369 46h2v1h-2zM340 31h1v1h-1zM334 45h1v2h-1zM352 41h1v1h-1zM348 93h2v1h-2zM308 65h1v2h-1zM363 37h1v1h-1zM345 57h1v1h-1zM331 58h2v2h-2zM340 50h1v1h-1zM341 35h1v1h-1zM333 53h1v2h-1zM346 49h2v1h-2zM350 73h2v1h-2zM353 11h1v2h-1zM335 39h1v1h-1zM349 41h1v1h-1zM338 46h2v2h-2zM306 40h1v1h-1zM335 55h2v1h-2zM336 35h2v2h-2zM335 58h1v2h-1zM337 48h2v2h-2zM351 58h2v1h-2zM378 35h2v2h-2zM334 40h1v1h-1zM359 67h2v2h-2zM305 37h1v2h-1zM328 46h1v1h-1zM377 35h1v1h-1zM371 38h1v1h-1zM349 35h1v2h-1zM326 51h2v2h-2zM365 40h1v1h-1zM344 29h1v1h-1zM336 51h2v1h-2zM357 64h1v1h-1zM346 72h2v2h-2zM335 34h1v2h-1zM336 63h1v2h-1zM358 78h2v2h-2zM355 48h2v2h-2zM351 60h2v1h-2zM344 60h2v1h-2zM329 47h2v1h-2zM328 33h1v2h-1zM341 23h2v1h-2zM345 46h1v1h-1zM325 59h1v1h-1zM364 49h2v1h-2zM306 60h1v1h-1zM350 75h1v1h-1zM345 59h2v2h-2zM329 59h1v1h-1zM357 49h1v2h-1zM369 60h1v1h-1zM367 47h2v2h-2zM362 54h2v2h-2zM347 55h1v1h-1zM336 67h1v1h-1zM343 69h2v1h-2zM358 70h2v1h-2zM325 40h2v1h-2zM359 89h1v1h-1zM344 68h1v1h-1zM358 83h1v1h-1zM328 46h1v1h-1zM342 56h2v1h-2zM346 21h2v2h-2zM364 64h1v2h-1zM321 79h2v1h-2zM354 48h1v1h-1zM339 23h2v1h-2zM368 31h1v1h-1zM345 33h1v1h-1zM376 34h2v2h-2zM353 80h1v1h-1zM336 52h2v1h-2zM334 66h1v1h-1zM351 29h1v1h-1zM354 63h1v1h-1zM332 61h1v2h-1zM363 51h1v1h-1zM348 52h2v1h-2zM372 57h2v1h-2zM312 85h1v1h-1zM358 53h1v1h-1zM348 26h1v1h-1zM358 46h1v1h-1zM331 43h1v2h-1zM337 84h2v1h-2zM342 33h1v1h-1zM313 37h1v1h-1zM343 64h1v1h-1zM353 29h1v1h-1zM340 20h1v1h-1zM373 55h2v2h-2zM331 46h1v1h-1zM316 38h2v1h-2zM350 34h2v2h-2zM352 33h1v1h-1zM335 94h2v1h-2zM369 60h1v1h-1zM339 44h2v2h-2zM318 55h1v1h-1zM366 39h2v1h-2zM313 67h2v1h-2zM334 49h2v1h-2zM348 69h1v1h-1zM364 59h1v1h-1zM346 46h2v2h-2zM344 64h2v1h-2zM343 77h1v1h-1zM354 50h1v1h-1zM369 36h1v1h-1zM340 40h2v1h-2zM347 72h2v1h-2zM357 42h2v1h-2zM318 39h2v1h-2zM375 25h1v1h-1zM313 76h2v1h-2zM321 47h2v1h-2zM325 49h1v1h-1zM348 53h1v2h-1zM362 29h2v2h-2zM350 44h1v1h-1zM357 48h2v2h-2zM353 43h1v1h-1zM347 29h1v1h-1zM339 50h2v2h-2zM347 51h1v1h-1zM387 54h2v2h-2zM350 51h2v2h-2zM348 75h1v2h-1zM342 49h1v1h-1zM349 44h1v1h-1zM366 45h1v1h-1zM341 40h1v2h-1zM329 75h2v2h-2zM359 70h1v1h-1zM377 77h1v1h-1zM345 48h2v2h-2zM376 49h1v1h-1zM340 37h2v1h-2zM352 61h2v2h-2zM328 36h1v2h-1zM333 64h1v1h-1zM340 38h1v2h-1zM346 67h1v1h-1zM361 55h1v1h-1zM335 59h2v2h-2zM358 39h1v1h-1zM338 42h1v1h-1zM367 70h1v2h-1zM363 51h1v2h-1zM339 68h1v1h-1zM318 71h1v1h-1zM317 68h2v1h-2zM358 34h1v1h-1zM345 29h1v1h-1zM357 52h2v2h-2zM345 27h2v1h-2zM350 47h1v2h-1zM362 40h1v2h-1zM343 34h1v2h-1zM341 53h2v1h-2zM350 42h2v1h-2zM351 50h2v2h-2zM340 64h1v2h-1zM337 46h1v1h-1zM319 68h2v2h-2zM345 28h1v2h-1zM359 47h1v1h-1zM352 49h2v1h-2zM319 73h2v1h-2zM351 58h2v1h-2zM332 46h2v1h-2zM365 58h2v2h-2zM347 62h1v1h-1zM382 40h1v1h-1zM342 65h2v2h-2zM385 31h2v2h-2zM346 45h2v2h-2zM364 75h1v1h-1zM374 57h1v1h-1zM358 45h1v2h-1zM345 54h1v1h-1zM339 78h1v2h-1zM359 48h1v1h-1zM340 62h1v1h-1zM350 50h2v1h-2zM360 62h1v1h-1zM311 61h1v2h-1zM303 73h1v1h-1zM359 73h1v2h-1zM347 33h1v2h-1zM329 86h1v2h-1zM357 33h2v2h-2zM309 59h1v1h-1zM364 48h2v1h-2zM330 45h2v2h-2zM356 44h1v2h-1zM333 49h1v1h-1zM344 49h1v1h-1zM347 58h1v1h-1zM338 64h1v1h-1zM378 81h2v1h-2zM352 69h1v1h-1zM339 53h1v2h-1zM372 43h2v2h-2zM358 34h2v1h-2zM344 38h1v1h-1zM320 61h1v2h-1zM381 59h1v1h-1zM339 51h1v1h-1zM353 74h1v2h-1zM365 39h1v1h-1zM357 54h1v1h-1zM356 64h1v1h-1zM359 40h2v1h-2zM352 42h2v1h-2zM369 57h2v2h-2zM337 46h2v1h-2zM330 52h2v1h-2zM341 19h2v2h-2zM380 45h1v2h-1zM353 42h1v1h-1zM360 38h1v1h-1zM350 43h1v1h-1zM360 47h2v2h-2zM347 80h1v1h-1zM326 43h1v2h-1zM357 75h1v1h-1zM351 80h1v1h-1zM343 56h2v1h-2zM357 66h2v2h-2zM331 58h1v1h-1zM349 60h2v1h-2zM356 60h1v1h-1zM349 29h1v1h-1zM345 64h2v1h-2zM342 48h1v1h-1zM340 43h1v2h-1zM353 58h1v1h-1zM363 36h1v1h-1zM335 70h1v1h-1zM351 51h2v1h-2zM340 47h2v2h-2zM341 50h1v2h-1zM375 56h2v2h-2zM348 49h1v1h-1zM366 25h1v1h-1zM378 39h1v1h-1zM352 50h1v1h-1zM353 63h2v1h-2zM343 38h2v2h-2zM332 45h1v2h-1zM333 45h1v1h-1zM357 31h2v1h-2zM369 51h1v2h-1zM358 65h2v1h-2zM347 105h2v2h-2zM333 32h1v1h-1zM355 21h2v1h-2zM327 43h1v1h-1zM360 55h2v1h-2zM328 28h1v1h-1zM359 67h1v1h-1zM349 71h1v2h-1zM358 58h2v1h-2zM340 51h1v2h-1zM310 36h2v2h-2zM345 47h2v1h-2zM348 65h1v1h-1zM341 30h1v1h-1zM356 102h2v1h-2zM346 41h2v2h-2zM346 33h1v1h-1zM346 53h1v1h-1zM352 44h1v1h-1zM326 87h1v1h-1zM332 62h1v1h-1zM344 50h1v1h-1zM324 101h1v1h-1zM345 66h1v1h-1zM358 64h1v2h-1zM343 61h1v1h-1zM353 39h1v1h-1zM376 18h2v1h-2zM379 65h1v2h-1zM364 53h2v2h-2zM340 54h2v2h-2zM353 62h1v2h-1zM377 50h1v1h-1zM362 53h1v2h-1zM358 50h1v2h-1zM348 49h2v2h-2zM344 66h1v2h-1zM327 46h1v1h-1zM343 46h2v2h-2zM354 29h2v1h-2zM382 48h1v2h-1zM348 54h2v2h-2zM355 54h2v1h-2zM368 51h1v1h-1zM360 53h1v1h-1zM342 62h2v2h-2zM347 43h2v1h-2zM335 52h1v2h-1zM356 80h1v2h-1zM345 47h1v1h-1zM365 14h1v1h-1zM336 29h2v2h-2zM358 60h1v1h-1zM344 38h1v2h-1zM362 72h1v1h-1zM329 60h2v2h-2zM361 78h1v1h-1zM362 74h1v1h-1zM369 24h1v1h-1zM343 30h2v2h-2zM334 52h2v2h-2zM346 87h1v1h-1zM323 69h1v2h-1zM360 73h2v2h-2zM332 64h1v2h-1zM347 36h1v1h-1zM361 72h1v1h-1zM351 47h1v2h-1zM368 79h2v2h-2zM345 58h1v1h-1zM362 95h2v2h-2zM352 52h2v1h-2zM329 58h2v2h-2zM355 45h2v2h-2zM331 57h1v1h-1zM351 62h1v1h-1zM337 49h1v1h-1zM355 56h2v2h-2zM333 59h1v1h-1zM353 52h1v2h-1zM364 56h2v1h-2zM325 59h2v1h-2zM348 46h1v1h-1zM347 70h1v1h-1zM357 57h1v1h-1zM373 60h2v2h-2zM341 46h2v1h-2zM336 52h2v2h-2zM349 66h1v1h-1zM352 88h2v1h-2zM347 34h1v1h-1zM338 67h1v1h-1zM346 52h1v1h-1zM365 64h2v1h-2zM379 35h2v2h-2zM337 57h2v2h-2zM362 63h1v1h-1zM361 28h2v2h-2zM363 80h1v2h-1zM332 47h2v2h-2zM310 59h2v2h-2zM336 67h1v1h-1zM377 34h1v1h-1zM340 62h1v2h-1zM338 33h2v1h-2zM349 50h2v1h-2zM340 28h2v2h-2zM356 88h2v2h-2zM327 32h1v1h-1zM355 62h2v1h-2zM362 43h2v2h-2zM352 48h1v1h-1zM370 52h1v2h-1zM359 42h1v1h-1zM376 24h1v1h-1zM349 50h2v2h-2zM314 24h1v2h-1zM343 60h2v1h-2zM364 37h2v1h-2zM352 61h1v1h-1zM344 69h2v2h-2zM348 63h1v2h-1zM362 48h1v1h-1zM345 55h1v1h-1zM338 48h1v1h-1zM357 35h2v1h-2zM334 30h2v2h-2zM358 51h1v2h-1zM358 53h1v1h-1zM357 59h1v1h-1zM361 26h2v1h-2zM323 44h2v1h-2zM367 60h1v1h-1zM304 60h1v1h-1zM340 71h1v2h-1zM344 67h2v1h-2zM355 50h2v2h-2zM315 39h1v1h-1zM348 49h1v1h-1zM341 40h2v1h-2zM372 50h1v2h-1zM338 47h2v2h-2zM347 54h1v1h-1zM340 58h1v1h-1zM386 69h2v1h-2zM345 72h2v1h-2zM326 71h2v1h-2zM376 39h1v2h-1zM364 73h2v2h-2zM352 48h1v1h-1zM375 52h2v2h-2zM340 30h2v1h-2zM347 32h1v2h-1zM361 67h2v1h-2zM370 61h2v2h-2zM374 66h1v2h-1zM384 25h2v1h-2zM334 42h1v1h-1zM338 43h1v2h-1zM333 47h2v1h-2zM342 23h2v2h-2zM347 40h1v1h-1zM355 57h2v1h-2zM367 60h1v2h-1zM318 64h1v1h-1zM337 53h1v1h-1zM342 48h1v1h-1zM343 77h2v2h-2zM353 64h2v2h-2zM323 38h2v2h-2zM343 42h2v2h-2zM351 51h2v2h-2zM343 43h2v1h-2zM341 78h1v1h-1zM381 69h1v1h-1zM362 74h1v1h-1zM335 41h1v1h-1zM375 45h1v1h-1zM370 38h2v2h-2zM351 42h1v1h-1zM365 78h2v2h-2zM327 41h2v2h-2zM332 50h1v1h-1zM359 51h1v1h-1zM352 49h1v1h-1zM338 50h1v1h-1zM375 56h1v1h-1zM348 59h1v2h-1zM354 72h1v1h-1zM336 46h2v2h-2zM355 65h2v2h-2zM368 59h2v1h-2zM347 61h2v1h-2zM352 52h1v1h-1zM341 61h1v2h-1zM330 63h2v1h-2zM340 16h2v1h-2zM343 33h1v1h-1zM361 35h1v1h-1zM349 33h2v2h-2zM333 61h2v2h-2zM376 40h1v1h-1zM325 63h2v2h-2zM324 59h2v1h-2zM339 48h1v1h-1zM348 98h1v1h-1zM352 63h2v2h-2zM343 40h1v1h-1zM337 29h2v1h-2zM345 31h1v1h-1zM360 21h1v1h-1zM314 83h2v2h-2zM363 24h1v1h-1zM372 31h1v1h-1zM388 30h2v2h-2zM354 47h1v1h-1zM350 40h1v1h-1zM307 74h2v2h-2zM326 37h1v1h-1zM359 86h1v2h-1zM352 95h2v1h-2zM313 41h1v1h-1zM379 57h1v2h-1zM374 96h1v1h-1zM352 57h1v2h-1zM305 56h1v1h-1zM334 48h1v1h-1zM342 36h1v1h-1zM377 27h1v1h-1zM365 81h2v1h-2zM348 49h2v1h-2zM386 72h1v1h-1zM296 58h2v2h-2zM358 12h1v1h-1zM322 30h2v1h-2zM319 39h1v1h-1zM347 18h2v2h-2zM389 34h1v1h-1zM311 53h1v2h-1zM360 45h1v1h-1zM322 39h1v1h-1zM316 25h2v2h-2zM322 76h2v1h-2zM378 51h2v2h-2zM351 53h1v2h-1zM369 73h2v1h-2zM376 70h1v2h-1zM324 79h1v1h-1zM356 70h2v2h-2zM321 30h2v2h-2zM368 18h1v1h-1zM320 48h1v1h-1zM354 49h1v1h-1zM358 37h2v2h-2zM360 56h1v1h-1zM311 21h2v2h-2zM352 39h2v2h-2zM374 62h1v1h-1zM363 57h2v2h-2zM369 50h2v2h-2zM343 48h2v1h-2zM350 73h1v2h-1zM351 76h1v1h-1zM334 73h1v1h-1zM367 69h1v1h-1zM364 46h1v1h-1zM391 72h1v1h-1zM368 65h2v2h-2zM371 40h2v1h-2zM345 102h1v1h-1zM321 56h2v1h-2zM344 85h1v1h-1zM358 55h1v2h-1zM312 64h1v2h-1zM343 70h1v1h-1zM344 13h2v1h-2zM327 42h2v2h-2zM312 19h1v1h-1zM305 35h2v1h-2zM345 34h1v2h-1zM330 81h1v1h-1zM296 84h1v1h-1zM357 83h1v2h-1zM328 19h1v2h-1zM331 45h2v1h-2zM343 57h2v1h-2zM375 50h1v2h-1zM338 49h2v1h-2zM385 51h1v1h-1zM378 33h2v2h-2zM365 27h2v1h-2zM320 50h2v2h-2zM308 67h1v1h-1zM337 49h2v2h-2zM389 85h2v2h-2zM355 13h1v1h-1zM335 50h1v2h-1zM349 37h1v1h-1zM379 74h1v2h-1zM380 67h2v2h-2zM371 103h1v1h-1zM356 55h1v2h-1zM364 100h1v1h-1zM389 77h1v1h-1zM346 56h1v1h-1zM312 61h2v1h-2zM346 55h2v2h-2zM304 72h2v2h-2zM306 31h1v1h-1zM352 83h2v2h-2zM364 51h2v1h-2zM337 77h1v1h-1zM372 53h2v1h-2zM391 79h1v1h-1zM354 38h1v1h-1zM369 60h2v2h-2zM328 71h1v2h-1zM350 96h2v2h-2zM349 48h1v2h-1zM356 11h2v1h-2zM377 77h2v1h-2zM296 58h1v1h-1zM316 79h2v2h-2zM314 68h2v1h-2zM368 65h2v2h-2zM303 90h2v2h-2zM282 49h2v2h-2zM381 56h2v2h-2zM334 76h1v1h-1zM371 32h2v1h-2zM295 24h2v1h-2zM315 46h1v1h-1zM384 47h2v1h-2zM378 73h1v1h-1zM325 57h1v1h-1zM348 72h1v1h-1zM360 67h1v2h-1zM388 83h1v1h-1zM355 96h1v1h-1zM343 55h1v1h-1zM374 43h1v1h-1zM334 48h1v1h-1zM370 27h1v1h-1zM359 38h1v1h-1zM363 52h1v1h-1zM308 51h2v1h-2zM296 63h1v1h-1zM305 69h2v2h-2zM343 77h2v1h-2zM340 84h2v2h-2zM349 101h2v2h-2zM318 56h1v1h-1zM293 39h1v1h-1zM342 101h1v1h-1zM300 37h2v1h-2zM334 87h1v1h-1zM320 15h2v2h-2zM346 41h1v1h-1zM324 23h2v2h-2zM335 57h1v1h-1zM377 63h1v1h-1zM316 89h1v2h-1zM358 117h1v1h-1zM357 31h2v1h-2zM353 52h2v1h-2zM282 19h2v1h-2zM343 68h2v1h-2zM357 74h2v2h-2zM352 69h1v2h-1zM283 53h1v1h-1zM346 28h2v2h-2zM360 46h1v1h-1zM313 59h2v1h-2zM338 41h2v1h-2zM357 31h1v1h-1zM343 88h1v1h-1zM350 75h1v2h-1zM342 23h1v1h-1zM338 61h2v2h-2zM292 66h1v1h-1zM341 68h1v1h-1zM330 25h1v1h-1zM359 68h1v2h-1zM382 123h2v2h-2zM345 56h2v2h-2zM384 64h2v1h-2zM313 71h1v1h-1zM333 101h1v1h-1zM375 90h2v2h-2zM362 53h1v1h-1zM358 55h1v1h-1zM390 44h1v1h-1zM316 73h1v1h-1zM361 60h1v1h-1zM315 59h2v1h-2zM359 32h2v2h-2zM366 49h2v1h-2zM367 48h2v2h-2zM302 54h1v1h-1zM312 76h1v1h-1zM372 49h2v1h-2zM348 33h1v2h-1zM339 11h1v1h-1zM324 82h1v1h-1zM308 60h1v2h-1zM356 68h1v1h-1zM325 52h2v2h-2zM352 80h1v2h-1zM342 64h1v1h-1zM337 32h2v2h-2zM357 72h2v1h-2zM332 72h1v1h-1zM297 53h1v1h-1zM383 51h1v1h-1zM329 69h1v1h-1zM310 59h1v2h-1zM350 57h2v2h-2zM315 85h2v2h-2zM341 69h1v2h-1zM333 82h1v1h-1zM318 41h1v1h-1zM367 107h2v2h-2zM335 74h1v1h-1zM328 74h2v2h-2zM370 56h2v1h-2zM325 40h1v2h-1zM330 60h2v2h-2zM356 92h2v2h-2zM367 91h1v2h-1zM308 100h1v1h-1zM267 46h2v1h-2zM364 36h2v1h-2zM300 58h1v2h-1zM335 13h1v1h-1zM315 18h1v2h-1zM359 82h1v1h-1zM384 47h1v1h-1zM325 41h2v1h-2zM325 28h2v1h-2zM348 59h2v2h-2zM250 61h2v1h-2zM147 65h2v2h-2zM262 63h2v2h-2zM179 64h2v1h-2zM293 65h2v1h-2zM171 53h2v1h-2zM290 60h2v2h-2zM168 55h2v1h-2zM154 63h2v1h-2zM216 70h2v1h-2zM228 68h2v2h-2zM308 68h2v2h-2zM159 61h2v1h-2zM235 63h2v1h-2zM216 54h2v2h-2zM269 62h2v2h-2zM302 53h2v2h-2zM285 44h2v2h-2zM153 54h2v1h-2zM160 63h2v1h-2zM258 54h2v1h-2zM312 50h2v1h-2zM302 59h2v2h-2zM244 44h2v2h-2zM219 54h2v1h-2zM221 58h2v1h-2zM278 74h2v1h-2zM179 57h2v1h-2zM307 54h2v2h-2zM199 58h2v1h-2zM218 68h2v2h-2zM227 64h2v2h-2zM180 62h2v1h-2zM224 67h2v2h-2zM276 57h2v1h-2zM300 58h2v1h-2zM154 66h2v2h-2zM266 56h2v2h-2zM180 70h2v1h-2zM304 55h2v1h-2zM160 57h2v1h-2zM146 57h2v1h-2zM297 65h2v1h-2zM165 60h2v2h-2zM280 64h2v1h-2zM249 66h2v2h-2zM248 59h2v1h-2zM219 65h2v1h-2zM273 75h2v2h-2zM253 60h2v2h-2zM283 45h2v2h-2zM191 59h2v2h-2zM163 61h2v2h-2zM222 60h2v2h-2zM167 58h2v2h-2zM246 56h2v1h-2zM248 54h2v1h-2zM302 54h2v1h-2zM239 55h2v2h-2zM213 59h2v2h-2zM244 55h2v2h-2zM218 42h2v2h-2zM266 72h2v1h-2zM271 53h2v1h-2zM206 62h2v2h-2zM303 57h2v1h-2zM169 63h2v1h-2zM199 60h2v2h-2zM205 51h2v1h-2zM209 64h2v2h-2zM250 59h2v1h-2zM291 61h2v2h-2zM294 52h2v2h-2zM248 55h2v2h-2zM149 48h2v1h-2zM157 59h2v2h-2zM280 54h2v1h-2zM172 68h2v1h-2zM270 56h2v2h-2zM207 51h2v2h-2zM272 61h2v1h-2zM283 59h2v1h-2zM170 55h2v2h-2zM276 57h2v1h-2zM177 57h2v1h-2zM268 62h2v2h-2zM241 69h2v2h-2zM265 58h2v2h-2zM180 60h2v2h-2zM281 62h2v2h-2zM250 62h2v1h-2zM271 69h2v1h-2zM192 66h2v2h-2zM264 51h2v1h-2zM148 54h2v2h-2zM254 56h2v1h-2zM214 49h2v2h-2zM167 53h2v2h-2zM299 51h2v1h-2zM256 56h2v2h-2zM296 61h2v2h-2zM190 60h2v1h-2zM203 60h2v1h-2zM187 54h2v1h-2zM164 62h2v2h-2zM197 65h2v1h-2zM226 61h2v1h-2zM223 68h2v2h-2zM258 52h2v1h-2zM154 64h2v2h-2zM191 53h2v1h-2zM258 51h2v1h-2zM291 64h2v2h-2zM228 45h2v2h-2zM188 57h2v2h-2zM222 64h2v2h-2zM216 62h2v1h-2zM287 51h2v1h-2zM211 64h2v2h-2zM195 65h2v1h-2zM177 56h2v1h-2zM276 58h2v2h-2zM245 63h2v1h-2zM206 60h2v2h-2zM167 73h2v1h-2zM252 65h2v1h-2zM177 64h2v2h-2zM228 65h2v1h-2zM216 60h2v1h-2zM279 66h2v2h-2zM286 67h2v1h-2zM205 63h2v2h-2zM222 71h2v2h-2zM283 58h2v2h-2zM183 57h2v2h-2zM217 50h2v2h-2zM212 78h2v2h-2zM306 62h2v2h-2zM298 56h2v2h-2zM190 57h2v1h-2zM170 54h2v1h-2zM169 52h2v1h-2zM251 52h2v1h-2zM213 57h2v1h-2zM164 57h2v1h-2zM246 59h2v1h-2zM281 55h2v1h-2zM221 68h2v2h-2zM214 59h2v2h-2zM178 56h2v1h-2zM222 57h2v2h-2zM218 62h2v1h-2zM272 59h2v1h-2zM198 64h2v1h-2zM145 54h2v2h-2zM247 69h2v1h-2zM289 69h2v2h-2zM295 55h2v1h-2zM159 58h2v1h-2zM272 64h2v2h-2zM298 40h2v2h-2zM292 50h2v2h-2zM234 51h2v1h-2zM154 64h2v2h-2zM247 59h2v1h-2zM275 56h2v2h-2zM197 67h2v2h-2zM248 53h2v2h-2zM301 56h2v1h-2zM182 58h2v1h-2zM241 68h2v2h-2zM240 51h2v2h-2zM277 57h2v2h-2zM274 58h2v1h-2zM251 66h2v1h-2zM196 62h2v1h-2zM271 63h2v1h-2zM202 69h2v2h-2zM300 61h2v2h-2zM250 69h2v2h-2zM183 54h2v1h-2zM225 59h2v1h-2zM251 60h2v2h-2zM209 68h2v2h-2zM156 61h2v1h-2zM239 56h2v2h-2zM235 68h2v2h-2zM245 62h2v1h-2zM205 61h2v1h-2zM248 64h2v1h-2zM231 63h2v1h-2zM303 52h2v1h-2zM181 65h2v1h-2zM224 66h2v2h-2zM226 60h2v1h-2zM239 70h2v1h-2zM311 59h2v2h-2zM290 58h2v2h-2zM184 57h2v1h-2zM221 53h2v1h-2zM162 70h2v2h-2zM297 51h2v2h-2zM240 62h2v2h-2zM203 56h2v2h-2zM261 61h2v2h-2zM304 66h2v1h-2zM156 60h2v1h-2zM180 54h2v2h-2zM232 47h2v1h-2zM266 56h2v1h-2zM180 54h2v1h-2zM180 59h2v2h-2zM236 59h2v2h-2zM265 73h2v1h-2zM204 66h2v2h-2zM232 49h2v1h-2zM300 61h2v1h-2zM183 68h2v2h-2zM311 45h2v2h-2zM287 51h2v2h-2zM181 63h2v2h-2zM183 66h2v1h-2zM152 61h2v2h-2zM266 60h2v2h-2zM233 58h2v2h-2zM265 54h2v1h-2zM289 60h2v1h-2zM278 70h2v2h-2zM212 60h2v2h-2zM259 61h2v1h-2zM198 52h2v1h-2zM149 55h2v1h-2zM272 60h2v1h-2zM245 62h2v2h-2zM152 53h2v2h-2zM172 54h2v2h-2zM304 59h2v2h-2zM227 57h2v2h-2zM269 58h2v1h-2zM278 62h2v2h-2zM148 61h2v2h-2zM161 57h2v1h-2zM297 65h2v1h-2zM227 65h2v2h-2zM288 59h2v2h-2zM309 67h2v2h-2zM174 60h2v1h-2zM197 66h2v1h-2zM194 56h2v1h-2zM240 47h2v1h-2zM173 62h2v1h-2zM271 56h2v2h-2zM232 55h2v1h-2zM289 61h2v2h-2zM228 66h2v1h-2zM263 52h2v1h-2zM205 66h2v1h-2zM188 50h2v1h-2zM256 59h2v1h-2zM287 67h2v2h-2zM232 68h2v1h-2zM250 65h2v2h-2zM243 62h2v2h-2zM246 59h2v2h-2zM147 58h2v2h-2zM310 61h2v1h-2zM167 66h2v2h-2zM250 59h2v1h-2zM161 52h2v2h-2zM278 55h2v2h-2zM179 53h2v1h-2zM150 65h2v1h-2zM255 65h2v2h-2zM190 73h2v1h-2zM195 69h2v2h-2zM219 57h2v2h-2zM277 65h2v2h-2zM289 71h2v2h-2zM252 65h2v1h-2zM250 60h2v2h-2zM234 67h2v1h-2zM262 62h2v1h-2zM248 62h2v1h-2zM248 66h2v1h-2zM186 60h2v2h-2zM276 63h2v1h-2zM199 58h2v1h-2zM155 54h2v2h-2zM186 59h2v1h-2zM213 54h2v1h-2zM233 55h2v2h-2zM235 57h2v2h-2zM264 73h2v1h-2zM270 64h2v1h-2zM283 65h2v1h-2zM190 59h2v2h-2zM162 61h2v2h-2zM223 71h2v2h-2zM205 61h2v1h-2zM298 67h2v2h-2zM281 60h2v2h-2zM258 62h2v1h-2zM244 51h2v2h-2zM292 58h2v2h-2zM194 64h2v1h-2zM252 65h2v2h-2zM310 64h2v2h-2zM242 41h2v2h-2zM262 59h2v1h-2zM253 53h2v1h-2zM158 53h2v2h-2zM189 66h2v1h-2zM284 63h2v2h-2zM185 62h2v2h-2zM179 52h2v2h-2zM173 60h2v1h-2zM240 76h2v1h-2zM189 60h2v2h-2zM293 61h2v2h-2zM311 57h2v1h-2zM285 66h2v2h-2zM282 57h2v2h-2zM285 60h2v1h-2zM291 45h2v1h-2zM273 64h2v2h-2zM192 69h2v2h-2zM216 60h2v2h-2zM168 60h2v1h-2zM281 53h2v1h-2zM175 61h2v2h-2zM239 48h2v2h-2zM212 56h2v1h-2zM206 63h2v2h-2zM287 56h2v2h-2zM261 52h2v1h-2zM232 72h2v1h-2zM266 63h2v2h-2zM301 61h2v1h-2zM269 51h2v1h-2zM300 51h2v1h-2zM175 71h2v1h-2zM151 66h2v1h-2zM305 51h2v1h-2zM173 67h2v1h-2zM166 57h2v2h-2zM197 57h2v2h-2zM308 55h2v1h-2zM306 56h2v1h-2zM227 58h2v2h-2zM152 59h2v2h-2zM179 67h2v1h-2zM258 62h2v1h-2zM163 53h2v2h-2zM305 60h2v1h-2zM240 58h2v2h-2zM306 54h2v2h-2zM227 63h2v2h-2zM184 59h2v2h-2zM273 64h2v2h-2zM157 57h2v2h-2zM268 57h2v2h-2zM206 54h2v2h-2zM302 53h2v1h-2zM181 48h2v2h-2zM305 64h2v1h-2zM162 48h2v1h-2zM285 55h2v2h-2zM309 59h2v2h-2zM157 62h2v1h-2zM253 57h2v1h-2zM150 64h2v2h-2zM275 56h2v1h-2zM298 60h2v2h-2zM168 57h2v2h-2zM212 64h2v2h-2zM278 66h2v1h-2zM286 67h2v2h-2zM293 59h2v1h-2zM213 50h2v1h-2zM248 62h2v2h-2zM305 62h2v1h-2zM198 53h2v1h-2zM248 65h2v2h-2zM222 68h2v1h-2zM292 67h2v2h-2zM199 60h2v2h-2zM273 58h2v2h-2zM297 58h2v1h-2zM162 50h2v1h-2zM170 67h2v2h-2zM273 62h2v1h-2zM191 53h2v1h-2zM265 68h2v2h-2zM192 62h2v2h-2zM213 53h2v2h-2zM240 69h2v1h-2zM216 61h2v1h-2zM294 64h2v1h-2zM279 41h2v1h-2zM160 65h2v2h-2zM202 49h2v1h-2zM213 51h2v2h-2zM274 59h2v2h-2zM165 57h2v2h-2zM197 67h2v1h-2zM170 60h2v2h-2zM285 65h2v2h-2zM204 54h2v2h-2zM164 64h2v2h-2zM245 55h2v2h-2zM231 66h2v1h-2zM274 77h2v2h-2zM158 62h2v1h-2zM146 67h2v2h-2zM176 58h2v1h-2zM238 56h2v2h-2zM278 60h2v1h-2zM230 62h2v2h-2zM201 63h2v1h-2zM212 50h2v2h-2zM258 59h2v2h-2zM228 70h2v1h-2zM149 57h2v1h-2zM201 52h2v1h-2zM235 58h2v2h-2zM168 57h2v1h-2zM236 76h2v2h-2zM160 52h2v2h-2zM153 60h2v2h-2zM190 66h2v1h-2zM180 64h2v2h-2zM166 61h2v1h-2zM181 51h2v1h-2zM189 47h2v1h-2zM242 58h2v1h-2zM188 49h2v1h-2zM180 57h2v1h-2zM246 68h2v2h-2zM201 53h2v2h-2zM242 49h2v1h-2zM309 57h2v1h-2zM229 62h2v2h-2zM302 58h2v2h-2zM229 55h2v2h-2zM285 54h2v1h-2zM281 61h2v1h-2zM277 60h2v1h-2zM147 54h2v2h-2zM166 64h2v2h-2zM246 44h2v1h-2zM227 61h2v1h-2zM299 67h2v2h-2zM181 62h2v1h-2zM194 57h2v2h-2zM270 48h2v1h-2zM162 45h2v2h-2zM229 56h2v2h-2zM254 60h2v1h-2zM249 63h2v1h-2zM184 61h2v1h-2zM286 67h2v2h-2zM152 60h2v1h-2zM228 58h2v1h-2zM268 60h2v2h-2zM146 54h2v2h-2zM158 60h2v1h-2zM305 56h2v1h-2zM282 58h2v2h-2zM208 56h2v1h-2zM308 53h2v2h-2zM170 52h2v2h-2zM199 57h2v2h-2zM165 58h2v2h-2zM183 54h2v1h-2zM262 57h2v1h-2zM211 54h2v2h-2zM308 67h2v2h-2zM202 62h2v1h-2zM161 60h2v1h-2zM218 57h2v1h-2zM249 70h3v1h-3zM306 59h3v1h-3zM278 55h3v1h-3zM216 61h3v1h-3zM163 63h3v1h-3zM224 65h3v1h-3zM151 61h3v1h-3zM202 53h3v1h-3zM175 54h3v1h-3zM224 66h3v1h-3zM223 54h3v1h-3zM222 65h3v1h-3zM310 50h3v1h-3zM276 58h3v1h-3zM226 52h3v1h-3zM255 53h3v1h-3zM149 67h3v1h-3zM157 53h3v1h-3zM243 59h3v1h-3zM240 54h3v1h-3zM159 64h3v1h-3zM193 55h3v1h-3zM224 57h3v1h-3zM179 63h3v1h-3zM219 60h3v1h-3zM229 68h3v1h-3zM260 61h3v1h-3zM289 56h3v1h-3zM271 51h3v1h-3zM281 65h3v1h-3zM163 56h3v1h-3zM152 59h3v1h-3zM294 63h3v1h-3zM181 58h3v1h-3zM269 62h3v1h-3zM228 55h3v1h-3zM232 55h3v1h-3zM304 60h3v1h-3zM305 57h3v1h-3zM184 77h3v1h-3zM183 55h3v1h-3zM187 60h3v1h-3zM157 71h3v1h-3zM306 55h3v1h-3zM222 66h3v1h-3zM285 50h3v1h-3zM171 52h3v1h-3zM162 64h3v1h-3zM199 58h3v1h-3zM214 63h3v1h-3zM236 52h3v1h-3zM280 57h3v1h-3zM186 65h3v1h-3zM241 47h3v1h-3zM180 73h3v1h-3zM293 60h3v1h-3zM178 58h3v1h-3zM192 63h3v1h-3zM198 64h3v1h-3zM264 67h3v1h-3zM184 46h2v1h-2zM159 54h2v2h-2zM292 65h1v1h-1zM260 46h2v1h-2zM272 53h1v1h-1zM207 70h1v1h-1zM168 93h1v1h-1zM220 33h2v2h-2zM159 79h2v1h-2zM214 56h2v2h-2zM201 66h2v2h-2zM177 52h1v1h-1zM199 35h1v1h-1zM183 68h1v1h-1zM228 68h1v1h-1zM275 71h1v2h-1zM148 98h1v1h-1zM261 73h2v2h-2zM285 58h2v2h-2zM218 56h2v2h-2zM152 65h1v2h-1zM200 58h1v1h-1zM271 73h2v1h-2zM155 45h1v2h-1zM165 61h2v2h-2zM256 73h1v1h-1zM186 58h2v1h-2zM175 86h1v1h-1zM177 82h1v1h-1zM147 91h1v1h-1zM191 52h2v1h-2zM195 45h2v1h-2zM286 64h1v1h-1zM230 41h1v1h-1zM206 62h1v1h-1zM302 86h2v1h-2zM274 73h2v1h-2zM196 46h1v2h-1zM151 95h2v1h-2zM158 69h1v1h-1zM161 59h2v1h-2zM156 58h1v1h-1zM207 47h1v1h-1zM258 82h1v1h-1zM309 46h2v2h-2zM231 43h1v2h-1zM200 70h2v2h-2zM242 52h1v1h-1zM159 58h1v1h-1zM219 69h1v1h-1zM195 70h1v1h-1zM202 75h1v1h-1zM174 64h2v2h-2zM220 69h2v1h-2zM161 30h1v1h-1zM235 73h2v1h-2zM157 47h1v1h-1zM153 51h1v1h-1zM256 77h2v1h-2zM241 57h1v1h-1zM264 69h1v1h-1zM239 48h1v1h-1zM219 44h1v1h-1zM262 52h2v1h-2zM252 64h1v1h-1zM206 71h1v1h-1zM204 35h1v1h-1zM191 60h2v1h-2zM164 60h2v2h-2zM250 66h1v1h-1zM230 66h2v2h-2zM263 68h1v1h-1zM280 39h1v1h-1zM244 70h2v2h-2zM207 26h1v1h-1zM291 69h2v2h-2zM218 46h2v2h-2zM294 57h2v1h-2zM235 51h2v1h-2zM161 58h2v2h-2zM173 72h1v1h-1zM164 61h2v1h-2zM230 89h1v1h-1zM308 77h1v1h-1zM207 71h2v2h-2zM278 46h1v1h-1zM179 47h2v1h-2zM275 53h1v1h-1zM196 85h1v1h-1zM152 48h1v1h-1zM272 63h1v1h-1zM174 46h1v1h-1zM256 55h1v1h-1zM169 42h2v2h-2zM160 67h2v1h-2zM220 54h1v2h-1zM290 56h2v1h-2zM271 76h1v1h-1zM179 56h2v2h-2zM189 76h1v1h-1zM182 62h1v1h-1zM287 62h2v1h-2zM286 90h2v1h-2zM255 65h1v1h-1zM288 73h1v1h-1zM200 38h2v1h-2zM225 51h2v1h-2zM228 64h2v1h-2zM175 55h2v2h-2zM183 39h1v1h-1zM257 68h1v1h-1zM166 73h2v2h-2zM231 63h1v1h-1zM206 60h1v2h-1zM189 66h1v2h-1zM244 64h2v2h-2zM257 44h2v1h-2zM291 76h2v2h-2zM204 71h2v1h-2zM254 76h1v1h-1zM257 67h1v2h-1zM297 36h2v2h-2zM304 62h1v1h-1zM242 82h2v1h-2zM252 87h2v1h-2zM306 67h1v2h-1zM238 70h2v2h-2zM303 73h1v1h-1zM316 43h1v1h-1zM297 62h1v1h-1zM273 51h2v1h-2zM274 61h1v2h-1zM319 65h2v2h-2zM264 71h1v1h-1zM274 62h1v1h-1zM245 69h1v1h-1zM304 35h2v2h-2zM252 36h1v1h-1zM293 71h1v1h-1zM276 67h2v2h-2zM253 49h1v2h-1zM253 53h2v2h-2zM316 69h2v2h-2zM251 95h2v1h-2zM284 62h1v1h-1zM303 42h1v1h-1zM259 48h1v1h-1zM298 54h1v1h-1zM309 53h2v2h-2zM289 75h1v1h-1zM313 48h1v1h-1zM247 62h1v2h-1zM280 62h2v2h-2zM295 51h2v2h-2zM273 51h1v1h-1zM261 60h2v1h-2zM293 68h2v2h-2zM306 79h1v1h-1zM320 64h1v1h-1zM276 55h1v1h-1zM284 40h2v2h-2zM283 56h1v1h-1zM256 66h2v2h-2zM322 39h2v1h-2zM254 75h1v1h-1zM278 64h1v1h-1zM291 60h1v1h-1zM308 48h1v2h-1zM291 73h1v1h-1zM240 59h2v1h-2zM303 53h2v2h-2zM320 91h1v2h-1zM317 40h1v1h-1zM264 55h1v1h-1zM260 60h1v1h-1zM318 46h2v2h-2zM285 64h2v2h-2zM287 62h1v1h-1zM238 66h2v2h-2zM267 39h1v1h-1zM320 72h1v1h-1zM319 61h1v2h-1zM264 58h2v1h-2zM318 55h2v2h-2zM274 32h1v1h-1zM291 68h2v1h-2zM321 53h2v2h-2zM320 59h1v1h-1zM310 48h2v1h-2zM273 63h1v1h-1zM263 55h1v1h-1zM277 76h1v2h-1zM314 86h1v1h-1zM241 51h2v1h-2zM314 68h1v1h-1zM281 40h1v1h-1zM275 64h1v1h-1zM306 49h1v1h-1zM240 36h2v1h-2zM270 53h2v2h-2zM246 78h1v1h-1zM287 61h1v1h-1zM313 70h1v2h-1zM252 46h2v2h-2zM320 44h1v2h-1zM242 65h1v1h-1zM243 49h1v1h-1zM299 81h1v1h-1zM242 51h1v1h-1zM297 45h2v1h-2zM312 53h1v1h-1zM249 52h1v1h-1zM303 57h1v1h-1zM285 70h1v2h-1zM248 69h1v2h-1zM290 63h1v1h-1zM246 73h2v2h-2zM303 82h2v2h-2zM254 34h1v2h-1zM315 33h2v2h-2zM280 56h1v2h-1zM311 46h2v2h-2zM251 58h1v1h-1zM302 43h2v2h-2zM310 54h2v2h-2zM272 56h1v1h-1zM269 58h1v1h-1zM244 55h1v1h-1zM304 85h1v1h-1zM317 80h1v1h-1zM274 56h1v1h-1zM273 80h1v1h-1zM317 55h2v1h-2zM295 48h1v2h-1zM275 70h1v2h-1zM312 41h1v2h-1zM300 70h1v1h-1zM249 57h2v2h-2zM268 62h1v1h-1zM250 64h1v2h-1zM256 37h2v2h-2zM292 60h1v1h-1zM297 44h1v1h-1zM271 50h1v1h-1zM240 70h1v2h-1zM242 48h2v1h-2zM285 59h1v1h-1zM246 55h1v2h-1zM314 56h1v1h-1zM296 56h1v1h-1zM304 60h1v2h-1zM290 61h2v1h-2zM305 43h1v1h-1zM277 50h1v1h-1zM317 54h2v2h-2zM289 82h1v1h-1zM308 59h1v2h-1zM240 58h2v1h-2zM309 58h1v1h-1zM305 43h1v1h-1zM272 58h1v1h-1zM304 59h2v1h-2zM285 80h1v1h-1zM280 72h2v2h-2zM247 62h1v2h-1zM275 64h1v2h-1zM310 49h1v1h-1zM262 48h1v1h-1zM249 43h1v1h-1zM308 67h2v2h-2zM288 64h1v1h-1zM262 55h2v2h-2zM248 71h1v1h-1zM244 66h1v2h-1zM252 69h1v1h-1zM299 54h1v1h-1zM310 59h1v1h-1zM283 90h1v1h-1zM282 46h1v1h-1zM257 81h1v1h-1zM253 47h1v1h-1zM299 52h1v1h-1zM300 56h1v1h-1zM294 39h2v2h-2zM313 63h2v2h-2zM288 56h2v1h-2zM317 59h1v2h-1zM239 69h2v2h-2zM292 71h2v2h-2zM269 75h2v2h-2zM192 22h2v2h-2zM159 50h2v1h-2zM228 97h1v1h-1zM164 59h1v1h-1zM154 98h1v1h-1zM189 51h2v1h-2zM194 100h2v2h-2zM170 83h2v1h-2zM166 57h1v1h-1zM209 99h1v1h-1zM179 34h1v2h-1zM189 16h1v2h-1zM149 99h1v1h-1zM177 61h2v2h-2zM233 56h1v1h-1zM149 22h2v2h-2zM235 53h1v1h-1zM213 43h2v1h-2zM236 22h2v1h-2zM222 69h2v2h-2zM236 23h1v1h-1zM165 80h1v1h-1zM206 54h1v1h-1zM228 24h2v1h-2zM166 24h1v1h-1zM156 82h1v1h-1zM156 34h2v2h-2zM219 81h1v2h-1zM238 41h1v2h-1zM196 15h2v2h-2zM146 17h1v1h-1zM232 98h2v2h-2zM214 49h2v1h-2zM225 16h2v2h-2zM163 26h2v1h-2zM158 61h2v1h-2zM212 86h1v1h-1zM181 34h1v1h-1zM236 65h1v1h-1zM203 48h1v1h-1zM302 66h2v2h-2zM291 70h1v2h-1zM288 67h2v1h-2zM281 33h1v1h-1zM283 59h2v1h-2zM287 59h1v1h-1zM306 36h2v2h-2zM288 65h1v1h-1zM321 79h2v2h-2zM301 45h1v1h-1zM292 37h1v2h-1zM297 47h2v1h-2zM313 82h2v1h-2zM310 44h1v2h-1zM278 17h1v2h-1zM287 26h1v1h-1zM307 62h2v2h-2zM277 81h1v1h-1zM293 63h1v2h-1zM275 62h1v2h-1zM293 61h1v1h-1zM282 32h1v1h-1zM310 83h1v1h-1zM271 43h2v2h-2zM278 59h1v2h-1zM299 80h2v1h-2zM279 42h1v1h-1zM285 104h1v1h-1zM301 34h1v1h-1zM286 48h2v2h-2zM282 30h2v1h-2zM307 38h2v2h-2zM294 22h1v1h-1zM277 44h1v1h-1zM277 57h1v1h-1zM301 65h1v1h-1zM318 44h1v1h-1zM282 72h2v1h-2zM309 100h1v1h-1zM313 77h1v1h-1zM282 81h2v1h-2zM281 76h1v1h-1zM322 58h1v1h-1zM298 45h2v2h-2zM305 94h1v2h-1zM305 80h2v2h-2zM324 50h1v1h-1zM285 75h1v1h-1zM301 45h2v2h-2zM300 110h2v1h-2zM319 11h1v1h-1zM279 33h2v1h-2zM281 52h1v1h-1zM302 54h1v1h-1zM282 34h2v1h-2zM283 90h2v1h-2zM279 58h1v2h-1zM302 78h2v2h-2zM296 49h2v1h-2zM300 42h1v1h-1zM295 75h1v1h-1zM338 81h2v1h-2zM275 30h2v1h-2zM286 42h2v1h-2zM282 48h2v1h-2zM340 47h2v1h-2zM294 68h1v2h-1zM319 72h1v1h-1zM290 64h2v1h-2zM300 71h2v2h-2zM267 67h1v1h-1zM308 41h2v1h-2zM279 27h2v1h-2zM309 35h2v2h-2zM318 62h2v2h-2zM308 33h1v1h-1zM288 90h1v1h-1zM278 51h1v1h-1zM284 56h2v1h-2zM287 27h1v1h-1zM302 76h2v1h-2zM286 56h1v1h-1zM294 45h1v1h-1zM284 45h2v2h-2zM287 49h2v1h-2zM294 26h1v1h-1zM263 34h2v1h-2zM309 49h1v1h-1zM336 53h1v1h-1zM299 55h2v2h-2zM314 58h2v2h-2zM316 69h1v2h-1zM278 54h2v1h-2zM313 35h2v2h-2zM312 56h1v1h-1zM301 92h1v1h-1zM294 64h1v1h-1zM294 20h2v1h-2zM285 39h2v1h-2zM319 67h1v1h-1zM274 42h1v2h-1zM264 58h1v2h-1zM299 100h2v2h-2zM308 65h1v2h-1zM313 33h1v1h-1zM303 47h1v1h-1zM274 34h1v1h-1zM314 71h2v2h-2zM289 65h2v2h-2zM342 114h2v1h-2zM314 141h1v1h-1zM325 128h1v1h-1zM314 140h2v1h-2zM331 79h1v2h-1zM330 91h2v1h-2zM338 122h1v1h-1zM318 91h2v1h-2zM331 119h1v1h-1zM347 116h2v1h-2zM310 83h1v2h-1zM346 91h2v1h-2zM313 89h1v2h-1zM323 76h1v2h-1zM348 106h1v1h-1zM330 134h2v1h-2zM338 120h2v1h-2zM331 101h1v1h-1zM335 114h1v1h-1zM301 129h1v1h-1zM329 94h1v1h-1zM323 84h2v2h-2zM319 108h2v2h-2zM331 94h1v2h-1zM312 110h2v2h-2zM318 112h1v1h-1zM308 109h1v1h-1zM352 108h2v2h-2zM332 116h2v1h-2zM322 79h1v1h-1zM333 102h2v1h-2zM323 121h1v1h-1zM333 73h2v2h-2zM282 107h2v1h-2zM312 118h1v1h-1zM317 107h1v2h-1zM321 124h1v2h-1zM330 106h1v1h-1zM324 127h1v1h-1zM319 113h1v2h-1zM323 102h1v1h-1zM344 118h2v1h-2zM321 94h1v1h-1zM341 114h1v1h-1zM325 98h1v1h-1zM334 114h2v2h-2zM335 128h2v2h-2zM320 134h1v1h-1zM341 91h1v1h-1zM321 103h2v2h-2zM309 99h2v1h-2zM307 125h1v1h-1zM334 91h1v1h-1zM333 98h2v2h-2zM348 143h1v2h-1zM316 98h1v1h-1zM335 66h1v2h-1zM308 111h2v1h-2zM323 125h1v1h-1zM325 128h1v2h-1zM147 60h1v2h-1zM147 71h1v2h-1zM145 57h1v2h-1zM147 55h1v2h-1zM145 53h1v2h-1zM146 72h1v2h-1zM145 51h1v2h-1zM146 57h1v2h-1zM147 65h1v2h-1zM146 61h1v2h-1zM341 132h2v2h-2zM356 103h1v1h-1zM358 120h2v2h-2zM354 89h2v2h-2zM344 95h2v1h-2zM345 107h2v1h-2zM387 87h2v1h-2zM341 93h2v1h-2zM354 108h1v1h-1zM324 93h2v2h-2zM331 109h2v1h-2zM358 86h1v1h-1zM346 99h2v1h-2zM360 89h2v1h-2zM348 89h2v2h-2zM366 101h1v1h-1zM368 136h2v1h-2zM366 100h2v1h-2zM328 87h2v2h-2zM345 101h1v1h-1zM361 87h1v1h-1zM353 89h1v1h-1zM356 91h1v1h-1zM355 89h1v2h-1zM354 91h2v2h-2zM375 109h1v1h-1zM353 90h1v1h-1zM343 137h1v2h-1zM363 99h1v1h-1zM355 87h2v2h-2zM330 90h1v2h-1zM341 88h2v1h-2zM366 86h1v1h-1zM353 117h2v2h-2zM330 133h2v2h-2zM349 111h1v1h-1zM341 102h1v1h-1zM373 113h2v1h-2zM337 121h2v1h-2zM335 93h1v1h-1zM350 88h1v2h-1zM352 91h2v2h-2zM352 100h2v2h-2zM351 98h2v1h-2zM365 88h1v1h-1zM351 128h1v1h-1zM369 102h1v1h-1zM333 91h2v2h-2zM345 128h1v1h-1zM333 133h1v2h-1zM357 91h2v1h-2zM366 89h1v1h-1zM340 98h1v2h-1zM327 103h1v2h-1zM345 91h1v1h-1zM330 101h1v1h-1zM378 94h1v1h-1zM329 106h2v2h-2zM358 94h2v1h-2zM378 94h2v1h-2zM318 93h1v1h-1zM334 116h1v1h-1zM346 102h1v2h-1zM365 90h2v2h-2zM338 94h2v1h-2zM363 100h1v1h-1zM367 99h2v2h-2zM362 89h2v1h-2zM345 112h2v2h-2zM373 118h2v1h-2zM372 87h2v2h-2zM369 92h1v1h-1zM348 94h1v1h-1zM313 94h1v2h-1zM362 92h2v1h-2zM337 94h1v2h-1zM313 91h2v1h-2zM350 117h1v1h-1zM340 118h1v1h-1zM342 102h2v2h-2zM357 107h2v1h-2zM350 86h2v1h-2zM382 100h2v2h-2zM367 90h2v2h-2zM353 99h1v1h-1zM382 103h1v1h-1zM337 91h1v1h-1zM332 109h2v2h-2zM368 104h1v1h-1zM374 97h1v1h-1zM366 115h2v2h-2zM356 111h1v1h-1zM351 88h2v1h-2zM336 88h1v1h-1zM350 91h1v2h-1zM350 91h1v1h-1zM359 99h1v1h-1zM352 100h2v1h-2zM357 93h1v2h-1zM342 142h1v2h-1zM347 86h2v2h-2zM364 101h1v1h-1zM359 87h1v2h-1zM354 132h1v1h-1zM354 91h1v1h-1zM323 99h2v1h-2zM348 114h1v2h-1zM346 89h2v2h-2zM351 159h2v1h-2zM372 91h1v1h-1zM325 87h1v2h-1zM346 101h2v1h-2zM348 90h2v2h-2zM365 87h1v1h-1zM356 103h2v1h-2zM352 97h2v1h-2zM363 111h2v2h-2zM356 93h1v2h-1zM342 86h1v2h-1zM342 108h2v1h-2zM350 100h1v2h-1zM360 90h2v2h-2zM352 95h2v1h-2zM344 95h2v1h-2zM329 105h1v2h-1zM361 133h2v2h-2zM352 89h1v1h-1zM347 96h2v1h-2zM337 175h2v2h-2zM322 89h1v1h-1zM363 108h1v2h-1zM356 89h2v2h-2zM363 95h2v2h-2zM341 103h1v1h-1zM360 92h1v1h-1zM389 109h2v1h-2zM329 109h2v1h-2zM374 94h1v1h-1zM337 89h1v1h-1zM340 154h1v1h-1zM349 118h2v1h-2zM362 87h2v2h-2zM322 87h1v1h-1zM340 91h2v1h-2zM338 95h2v2h-2zM337 88h1v2h-1zM353 87h2v2h-2zM351 90h2v1h-2zM350 105h1v1h-1zM360 97h1v1h-1zM374 169h2v1h-2zM332 155h2v1h-2zM367 159h2v1h-2zM358 128h2v2h-2zM355 149h2v1h-2zM339 111h2v2h-2zM355 118h2v2h-2zM353 148h2v1h-2zM347 177h2v2h-2zM355 155h2v1h-2zM347 131h2v2h-2zM352 178h2v1h-2zM364 123h2v2h-2zM337 129h2v1h-2zM335 171h2v1h-2zM357 165h2v2h-2zM367 181h2v1h-2zM351 167h2v1h-2zM346 146h2v2h-2zM348 114h2v1h-2zM374 123h2v1h-2zM360 135h2v2h-2zM337 129h2v1h-2zM358 114h2v1h-2zM346 173h2v1h-2zM358 164h2v1h-2zM370 171h2v2h-2zM341 180h2v2h-2zM371 160h2v2h-2zM362 180h2v1h-2zM347 150h2v2h-2zM359 106h2v2h-2zM344 164h2v1h-2zM349 149h2v2h-2zM360 160h2v1h-2zM356 163h2v1h-2zM368 176h2v2h-2zM373 171h2v1h-2zM345 121h2v2h-2zM371 181h2v2h-2zM350 110h2v2h-2zM370 133h2v2h-2zM339 163h2v1h-2zM354 149h2v1h-2zM360 124h2v1h-2zM346 141h2v1h-2zM372 168h2v1h-2zM347 131h2v2h-2zM369 110h2v2h-2zM334 128h2v2h-2zM325 133h2v2h-2zM331 117h2v1h-2zM353 109h2v1h-2zM355 181h2v2h-2zM337 128h2v2h-2zM364 171h2v2h-2zM366 144h2v1h-2zM353 117h2v2h-2zM361 127h2v1h-2zM344 169h2v2h-2zM378 164h2v1h-2zM347 130h2v1h-2zM368 183h2v2h-2zM345 178h2v2h-2zM351 164h2v1h-2zM349 125h2v2h-2zM366 179h2v2h-2zM383 179h2v1h-2zM371 166h2v2h-2zM377 169h2v2h-2zM361 183h2v2h-2zM341 132h2v1h-2zM357 119h2v2h-2zM347 151h2v2h-2zM335 142h2v1h-2zM357 173h2v1h-2zM346 129h2v2h-2zM341 132h2v2h-2zM322 184h2v1h-2zM371 114h2v2h-2zM354 176h2v2h-2zM346 166h2v1h-2zM347 158h2v1h-2zM372 159h2v2h-2zM344 138h2v2h-2zM360 220h2v2h-2zM346 214h1v2h-1zM378 262h1v2h-1zM365 253h1v1h-1zM368 260h2v1h-2zM373 207h1v1h-1zM389 247h2v1h-2zM386 236h1v1h-1zM379 227h2v2h-2zM384 202h1v2h-1zM366 231h2v2h-2zM362 253h1v2h-1zM371 271h1v2h-1zM370 245h1v1h-1zM377 235h2v1h-2zM351 208h1v1h-1zM361 222h2v1h-2zM375 274h1v2h-1zM346 208h2v1h-2zM388 214h1v1h-1zM372 237h1v1h-1zM374 262h1v2h-1zM387 235h2v1h-2zM381 277h2v1h-2zM382 199h2v1h-2zM372 199h2v1h-2zM391 260h1v1h-1zM368 218h2v1h-2zM359 202h2v1h-2zM390 194h1v2h-1zM374 239h1v2h-1zM382 258h1v1h-1zM385 263h1v1h-1zM383 239h1v1h-1zM389 256h2v1h-2zM380 232h2v1h-2zM391 220h1v2h-1zM355 224h1v1h-1zM369 197h1v1h-1zM369 225h1v1h-1zM382 243h1v1h-1zM390 224h1v1h-1zM384 263h1v1h-1zM384 245h2v2h-2zM377 220h1v2h-1zM360 223h1v2h-1zM380 203h1v1h-1zM389 266h2v1h-2zM380 268h1v1h-1zM380 234h2v2h-2zM389 198h1v1h-1zM355 264h1v1h-1zM377 202h1v1h-1zM355 196h1v2h-1zM359 211h1v2h-1zM380 258h1v2h-1zM388 220h2v2h-2zM376 206h1v2h-1zM379 269h2v1h-2zM380 211h1v1h-1zM384 270h1v1h-1zM352 269h1v2h-1zM383 268h1v1h-1zM372 262h2v2h-2zM386 274h1v1h-1zM382 268h1v1h-1zM374 252h1v1h-1zM368 263h1v1h-1zM368 266h1v2h-1zM374 228h2v1h-2zM368 256h2v2h-2zM386 255h1v2h-1zM382 251h1v1h-1zM384 210h2v1h-2zM360 249h2v2h-2zM360 271h1v1h-1zM369 236h2v1h-2zM349 206h1v1h-1zM373 210h2v2h-2zM343 270h1v1h-1zM364 276h1v1h-1zM360 277h1v2h-1zM364 234h1v1h-1zM368 253h2v1h-2zM383 265h1v1h-1zM370 246h2v1h-2zM365 241h1v1h-1zM367 198h1v1h-1zM381 242h1v2h-1zM359 259h1v1h-1zM366 268h1v1h-1zM384 249h2v1h-2zM388 268h1v2h-1zM343 203h2v1h-2zM382 272h2v2h-2zM375 244h2v2h-2zM384 217h1v1h-1zM367 254h1v2h-1zM382 210h1v1h-1zM378 215h1v2h-1zM363 230h1v2h-1zM346 226h1v1h-1zM373 244h1v1h-1zM373 191h1v2h-1zM378 246h1v2h-1zM374 191h1v1h-1zM372 228h2v2h-2zM390 239h1v1h-1zM370 246h2v2h-2zM375 203h2v2h-2zM342 209h1v1h-1zM382 218h2v1h-2zM379 214h1v1h-1zM380 202h1v1h-1zM359 250h2v2h-2zM369 221h2v1h-2zM381 215h1v1h-1zM344 196h1v1h-1zM358 189h2v2h-2zM384 274h1v2h-1zM380 207h2v2h-2zM372 192h2v2h-2zM359 272h2v2h-2zM374 212h2v1h-2zM354 199h2v1h-2zM363 193h2v2h-2zM337 246h2v1h-2zM388 255h1v1h-1zM383 192h1v1h-1zM369 247h1v1h-1zM385 216h1v1h-1zM362 230h2v2h-2zM383 203h1v1h-1zM371 199h1v2h-1zM369 267h1v1h-1zM372 225h2v2h-2zM363 195h1v1h-1zM383 250h1v1h-1zM380 248h1v1h-1zM379 269h2v1h-2zM382 266h2v2h-2zM354 254h2v2h-2zM358 234h2v1h-2zM351 193h2v2h-2zM370 225h1v1h-1zM387 200h1v1h-1zM390 237h1v2h-1zM383 238h1v2h-1zM369 271h1v1h-1zM386 261h1v1h-1zM379 277h2v1h-2zM354 197h1v1h-1zM387 243h1v1h-1zM388 213h1v1h-1zM378 229h1v1h-1zM366 211h1v2h-1zM376 193h1v1h-1zM385 240h1v2h-1zM358 243h1v1h-1zM381 217h1v1h-1zM385 215h1v1h-1zM350 227h1v1h-1zM382 262h2v2h-2zM385 203h1v2h-1zM365 218h2v1h-2zM372 272h1v1h-1zM389 196h2v1h-2zM377 192h1v1h-1zM364 261h2v2h-2zM385 251h1v1h-1zM344 266h1v2h-1zM349 234h2v1h-2zM379 241h2v2h-2zM388 265h1v1h-1zM383 217h1v2h-1zM379 260h1v1h-1zM379 277h2v2h-2zM344 219h2v1h-2zM381 265h1v2h-1zM356 265h1v1h-1zM374 207h2v2h-2zM386 255h2v1h-2zM376 198h2v1h-2zM366 237h2v1h-2zM370 207h1v1h-1zM388 269h1v1h-1zM379 202h1v1h-1zM367 230h1v1h-1zM361 215h2v1h-2zM379 268h1v1h-1zM389 270h1v2h-1zM385 267h1v1h-1zM371 222h2v1h-2zM348 252h1v2h-1zM374 196h1v1h-1zM386 263h1v1h-1zM364 193h2v2h-2zM338 207h1v1h-1zM365 220h2v2h-2zM371 231h1v1h-1zM355 236h1v1h-1zM382 211h1v2h-1zM355 231h1v1h-1zM370 190h1v1h-1zM388 262h2v2h-2zM384 260h1v2h-1zM381 275h1v2h-1zM382 253h2v1h-2zM370 230h1v2h-1zM371 202h2v1h-2zM373 219h2v1h-2zM371 278h1v1h-1zM382 219h1v1h-1zM383 223h2v1h-2zM390 210h2v2h-2zM370 242h1v1h-1zM385 262h1v2h-1zM381 206h2v1h-2zM371 226h1v1h-1zM377 251h1v2h-1zM363 273h1v2h-1zM386 259h2v2h-2zM386 196h1v1h-1zM383 277h2v1h-2zM355 196h1v2h-1zM384 207h1v1h-1zM375 260h1v1h-1zM369 222h2v2h-2zM377 220h1v1h-1zM382 206h2v2h-2zM384 212h2v1h-2zM360 194h2v2h-2zM374 235h1v1h-1zM381 223h1v1h-1zM376 205h2v1h-2zM379 201h1v1h-1zM384 201h1v1h-1zM375 250h2v2h-2zM378 262h1v1h-1zM391 216h1v1h-1zM378 242h1v1h-1zM375 275h1v1h-1zM365 222h2v2h-2zM381 241h2v2h-2zM367 222h1v1h-1zM389 220h1v2h-1zM388 196h1v1h-1zM383 253h2v2h-2zM366 276h2v1h-2zM339 249h2v1h-2zM344 201h2v1h-2zM386 228h1v1h-1zM371 221h1v1h-1zM387 252h2v1h-2zM389 250h2v1h-2zM377 227h2v1h-2zM387 277h1v1h-1zM387 228h1v1h-1zM382 193h1v1h-1zM367 260h1v2h-1zM386 240h2v1h-2zM386 248h1v1h-1zM348 222h2v1h-2zM371 205h1v1h-1zM388 201h2v1h-2zM390 222h2v2h-2zM348 273h2v1h-2zM375 226h1v2h-1zM386 221h2v1h-2zM363 226h2v1h-2zM381 268h1v1h-1zM387 220h2v2h-2zM337 235h1v2h-1zM357 232h1v2h-1zM372 241h1v1h-1zM381 201h2v1h-2zM377 189h1v1h-1zM385 277h2v1h-2zM377 259h1v1h-1zM346 230h2v2h-2zM366 232h2v2h-2zM388 264h1v1h-1zM384 256h1v1h-1zM385 267h2v2h-2zM390 245h1v1h-1zM390 227h1v2h-1zM371 264h1v1h-1zM376 202h1v1h-1zM344 277h1v1h-1zM378 244h1v1h-1zM387 265h1v1h-1zM388 267h2v1h-2zM380 230h1v1h-1zM386 268h2v2h-2zM375 221h1v1h-1zM369 217h1v1h-1zM369 232h1v2h-1zM358 258h2v1h-2zM386 250h1v1h-1zM380 230h2v2h-2zM385 276h2v2h-2zM351 193h1v1h-1zM368 217h1v1h-1zM353 193h2v1h-2zM357 214h2v2h-2zM377 248h1v2h-1zM376 227h1v1h-1zM387 212h1v2h-1zM383 229h2v2h-2zM377 232h1v1h-1zM389 245h1v1h-1zM379 198h1v2h-1zM389 216h2v1h-2zM380 222h2v1h-2zM366 209h1v2h-1zM364 250h1v1h-1zM386 254h1v1h-1zM380 232h2v2h-2zM386 270h2v1h-2zM145 143h2v2h-2zM191 146h2v2h-2zM240 139h2v2h-2zM188 157h2v2h-2zM220 167h2v2h-2zM240 160h2v2h-2zM255 150h2v2h-2zM254 159h2v2h-2zM266 155h2v2h-2zM269 157h2v2h-2zM275 163h2v2h-2zM282 170h2v2h-2zM265 172h2v2h-2zM174 177h2v2h-2zM182 179h2v2h-2zM193 176h2v2h-2zM199 174h2v2h-2zM199 179h2v2h-2zM218 175h2v2h-2zM220 184h2v2h-2zM238 180h2v2h-2zM247 185h2v2h-2zM255 199h2v2h-2zM280 208h2v2h-2zM218 201h2v2h-2zM229 201h2v2h-2zM216 206h2v2h-2zM216 208h2v2h-2zM215 213h2v2h-2zM237 206h2v2h-2zM205 227h2v2h-2zM225 229h2v2h-2zM233 227h2v2h-2zM195 240h2v2h-2zM255 238h2v2h-2zM282 255h2v2h-2zM291 232h2v1h-2zM295 229h2v1h-2zM315 151h2v1h-2zM311 276h2v2h-2zM310 197h2v1h-2zM294 104h1v2h-1zM288 160h1v1h-1zM288 257h1v1h-1zM287 267h1v1h-1zM295 113h2v2h-2zM335 119h1v2h-1zM307 129h1v2h-1zM303 121h2v2h-2zM294 179h1v1h-1zM288 136h1v1h-1zM304 122h1v1h-1zM316 232h1v1h-1zM318 123h2v2h-2zM286 112h1v2h-1zM293 126h1v1h-1zM294 210h2v1h-2zM308 271h2v2h-2z" fill="#000" shape-rendering="crispEdges"/>
<path d="M49.2 417.3V604" stroke="#111" stroke-width="1.45" fill="none"/>
<path d="M43.7 604H220.1" stroke="#111" stroke-width="1.5" fill="none"/>
<path d="M43.7 572.9H49.2" stroke="#111" stroke-width="1.2"/>
<path d="M43.7 541.8H49.2" stroke="#111" stroke-width="1.2"/>
<path d="M43.7 510.6H49.2" stroke="#111" stroke-width="1.2"/>
<path d="M43.7 479.5H49.2" stroke="#111" stroke-width="1.2"/>
<path d="M43.7 448.4H49.2" stroke="#111" stroke-width="1.2"/>
<path d="M43.7 417.3H49.2" stroke="#111" stroke-width="1.2"/>
<path d="M65 604V608.8" stroke="#111" stroke-width="1.2"/>
<path d="M96 604V608.8" stroke="#111" stroke-width="1.2"/>
<path d="M127 604V608.8" stroke="#111" stroke-width="1.2"/>
<path d="M158 604V608.8" stroke="#111" stroke-width="1.2"/>
<path d="M189 604V608.8" stroke="#111" stroke-width="1.2"/>
<path d="M219.6 604V608.8" stroke="#111" stroke-width="1.2"/>
<text x="37.9" y="604.3" text-anchor="end" font-size="11">0</text>
<text x="37.9" y="575.3" text-anchor="end" font-size="11">50</text>
<text x="37.9" y="544.2" text-anchor="end" font-size="11">100</text>
<text x="37.9" y="513" text-anchor="end" font-size="11">150</text>
<text x="37.9" y="481.9" text-anchor="end" font-size="11">200</text>
<text x="37.9" y="450.8" text-anchor="end" font-size="11">250</text>
<text x="37.9" y="419.7" text-anchor="end" font-size="11">300</text>
<text transform="translate(70.5 611.3) rotate(-90)" text-anchor="end" font-size="11">control</text>
<text transform="translate(101.5 611.3) rotate(-90)" text-anchor="end" font-size="11">0.01</text>
<text transform="translate(132.5 611.3) rotate(-90)" text-anchor="end" font-size="11">0.1</text>
<text transform="translate(163.5 611.3) rotate(-90)" text-anchor="end" font-size="11">1</text>
<text transform="translate(194.5 611.3) rotate(-90)" text-anchor="end" font-size="11">10</text>
<text transform="translate(225.1 611.3) rotate(-90)" text-anchor="end" font-size="11">100</text>
<path d="M65 557.3 L96 521.9 L127 475 L158 446.5 L188.5 453.8 L219 452.3" stroke="#000" stroke-width="1.7" fill="none" stroke-linejoin="round"/>
<path d="M65 551.6V563.1 M61.9 551.6h6.2 M61.9 563.1h6.2" stroke="#111" stroke-width="1.1" fill="none"/>
<path d="M96 513.6V530.9 M92.9 513.6h6.2 M92.9 530.9h6.2" stroke="#111" stroke-width="1.1" fill="none"/>
<path d="M127 469.6V479.2 M123.9 469.6h6.2 M123.9 479.2h6.2" stroke="#111" stroke-width="1.1" fill="none"/>
<path d="M158 438.8V454.2 M154.9 438.8h6.2 M154.9 454.2h6.2" stroke="#111" stroke-width="1.1" fill="none"/>
<path d="M188.5 443.5V463.8 M185.4 443.5h6.2 M185.4 463.8h6.2" stroke="#111" stroke-width="1.1" fill="none"/>
<path d="M219 445.4V458.8 M215.9 445.4h6.2 M215.9 458.8h6.2" stroke="#111" stroke-width="1.1" fill="none"/>
<circle cx="65" cy="557.3" r="3.4" fill="#000"/>
<circle cx="96" cy="521.9" r="3.4" fill="#000"/>
<circle cx="127" cy="475" r="3.4" fill="#000"/>
<circle cx="158" cy="446.5" r="3.4" fill="#000"/>
<circle cx="188.5" cy="453.8" r="3.4" fill="#000"/>
<circle cx="219" cy="452.3" r="3.4" fill="#000"/>
<text transform="translate(11.2 504.9) rotate(-90)" text-anchor="middle" font-size="13">Cell Number / 5 hpf</text>
<path d="M304.5 416.4V603.2" stroke="#111" stroke-width="1.45" fill="none"/>
<path d="M299 603.2H474.3" stroke="#111" stroke-width="1.5" fill="none"/>
<path d="M299 572.1H304.5" stroke="#111" stroke-width="1.2"/>
<path d="M299 540.9H304.5" stroke="#111" stroke-width="1.2"/>
<path d="M299 509.8H304.5" stroke="#111" stroke-width="1.2"/>
<path d="M299 478.7H304.5" stroke="#111" stroke-width="1.2"/>
<path d="M299 447.5H304.5" stroke="#111" stroke-width="1.2"/>
<path d="M299 416.4H304.5" stroke="#111" stroke-width="1.2"/>
<path d="M320 603.2V608" stroke="#111" stroke-width="1.2"/>
<path d="M350.8 603.2V608" stroke="#111" stroke-width="1.2"/>
<path d="M381.5 603.2V608" stroke="#111" stroke-width="1.2"/>
<path d="M412.3 603.2V608" stroke="#111" stroke-width="1.2"/>
<path d="M443 603.2V608" stroke="#111" stroke-width="1.2"/>
<path d="M473.8 603.2V608" stroke="#111" stroke-width="1.2"/>
<text x="292.7" y="605.1" text-anchor="end" font-size="11">0</text>
<text x="292.7" y="575.5" text-anchor="end" font-size="11">50</text>
<text x="292.7" y="544.3" text-anchor="end" font-size="11">100</text>
<text x="292.7" y="513.2" text-anchor="end" font-size="11">150</text>
<text x="292.7" y="482.1" text-anchor="end" font-size="11">200</text>
<text x="292.7" y="450.9" text-anchor="end" font-size="11">250</text>
<text x="292.7" y="419.8" text-anchor="end" font-size="11">300</text>
<text transform="translate(324 610.8) rotate(-90)" text-anchor="end" font-size="11">control</text>
<text transform="translate(354.8 610.8) rotate(-90)" text-anchor="end" font-size="11">0.01</text>
<text transform="translate(385.5 610.8) rotate(-90)" text-anchor="end" font-size="11">0.1</text>
<text transform="translate(416.3 610.8) rotate(-90)" text-anchor="end" font-size="11">1</text>
<text transform="translate(447 610.8) rotate(-90)" text-anchor="end" font-size="11">10</text>
<text transform="translate(477.8 610.8) rotate(-90)" text-anchor="end" font-size="11">100</text>
<path d="M320 558.8 L350.5 530.8 L381 498 L412 454.2 L442.6 474.2 L473.8 474.2" stroke="#000" stroke-width="1.7" fill="none" stroke-linejoin="round"/>
<path d="M320 555V562.7 M316.9 555h6.2 M316.9 562.7h6.2" stroke="#111" stroke-width="1.1" fill="none"/>
<path d="M350.5 514.6V544.6 M347.4 514.6h6.2 M347.4 544.6h6.2" stroke="#111" stroke-width="1.1" fill="none"/>
<path d="M381 480.8V513.8 M377.9 480.8h6.2 M377.9 513.8h6.2" stroke="#111" stroke-width="1.1" fill="none"/>
<path d="M412 441.5V466.5 M408.9 441.5h6.2 M408.9 466.5h6.2" stroke="#111" stroke-width="1.1" fill="none"/>
<path d="M442.6 463.8V485 M439.5 463.8h6.2 M439.5 485h6.2" stroke="#111" stroke-width="1.1" fill="none"/>
<path d="M473.8 467.3V482.7 M470.7 467.3h6.2 M470.7 482.7h6.2" stroke="#111" stroke-width="1.1" fill="none"/>
<circle cx="320" cy="558.8" r="3.4" fill="#000"/>
<circle cx="350.5" cy="530.8" r="3.4" fill="#000"/>
<circle cx="381" cy="498" r="3.4" fill="#000"/>
<circle cx="412" cy="454.2" r="3.4" fill="#000"/>
<circle cx="442.6" cy="474.2" r="3.4" fill="#000"/>
<circle cx="473.8" cy="474.2" r="3.4" fill="#000"/>
<path d="M50 724.9V910.8" stroke="#111" stroke-width="1.45" fill="none"/>
<path d="M44.5 910.8H221.3" stroke="#111" stroke-width="1.5" fill="none"/>
<path d="M44.5 879.8H50" stroke="#111" stroke-width="1.2"/>
<path d="M44.5 848.8H50" stroke="#111" stroke-width="1.2"/>
<path d="M44.5 817.8H50" stroke="#111" stroke-width="1.2"/>
<path d="M44.5 786.9H50" stroke="#111" stroke-width="1.2"/>
<path d="M44.5 755.9H50" stroke="#111" stroke-width="1.2"/>
<path d="M44.5 724.9H50" stroke="#111" stroke-width="1.2"/>
<path d="M66 910.8V915.6" stroke="#111" stroke-width="1.2"/>
<path d="M96.8 910.8V915.6" stroke="#111" stroke-width="1.2"/>
<path d="M128 910.8V915.6" stroke="#111" stroke-width="1.2"/>
<path d="M159.2 910.8V915.6" stroke="#111" stroke-width="1.2"/>
<path d="M190 910.8V915.6" stroke="#111" stroke-width="1.2"/>
<path d="M220.8 910.8V915.6" stroke="#111" stroke-width="1.2"/>
<text x="40" y="912.8" text-anchor="end" font-size="11">0</text>
<text x="40" y="883" text-anchor="end" font-size="11">50</text>
<text x="40" y="852" text-anchor="end" font-size="11">100</text>
<text x="40" y="821" text-anchor="end" font-size="11">150</text>
<text x="40" y="790.1" text-anchor="end" font-size="11">200</text>
<text x="40" y="759.1" text-anchor="end" font-size="11">250</text>
<text x="40" y="728.1" text-anchor="end" font-size="11">300</text>
<text transform="translate(71.1 919.4) rotate(-90)" text-anchor="end" font-size="11">control</text>
<text transform="translate(101.9 919.4) rotate(-90)" text-anchor="end" font-size="11">0.01</text>
<text transform="translate(133.1 919.4) rotate(-90)" text-anchor="end" font-size="11">0.1</text>
<text transform="translate(164.3 919.4) rotate(-90)" text-anchor="end" font-size="11">1</text>
<text transform="translate(195.1 919.4) rotate(-90)" text-anchor="end" font-size="11">10</text>
<text transform="translate(225.9 919.4) rotate(-90)" text-anchor="end" font-size="11">100</text>
<path d="M66.2 889.6 L96.9 891.5 L128.5 888 L159.2 885.4 L190 888 L220.8 886.5" stroke="#000" stroke-width="1.7" fill="none" stroke-linejoin="round"/>
<path d="M96.9 887V896.5 M93.8 887h6.2 M93.8 896.5h6.2" stroke="#111" stroke-width="1.1" fill="none"/>
<path d="M128.5 882.3V893.8 M125.4 882.3h6.2 M125.4 893.8h6.2" stroke="#111" stroke-width="1.1" fill="none"/>
<path d="M159.2 881.2V889.6 M156.1 881.2h6.2 M156.1 889.6h6.2" stroke="#111" stroke-width="1.1" fill="none"/>
<path d="M190 884.6V891.5 M186.9 884.6h6.2 M186.9 891.5h6.2" stroke="#111" stroke-width="1.1" fill="none"/>
<circle cx="66.2" cy="889.6" r="3.4" fill="#000"/>
<circle cx="96.9" cy="891.5" r="3.4" fill="#000"/>
<circle cx="128.5" cy="888" r="3.4" fill="#000"/>
<circle cx="159.2" cy="885.4" r="3.4" fill="#000"/>
<circle cx="190" cy="888" r="3.4" fill="#000"/>
<circle cx="220.8" cy="886.5" r="3.4" fill="#000"/>
<text transform="translate(13.6 814.4) rotate(-90)" text-anchor="middle" font-size="14.3">Cell Number / 5 hpf</text>
<text x="144.1" y="970.4" text-anchor="middle" font-size="13.8">MIP-1&#946; (nM)</text>
<path d="M305.4 724.2V910.5" stroke="#111" stroke-width="1.45" fill="none"/>
<path d="M299.9 910.5H475.5" stroke="#111" stroke-width="1.5" fill="none"/>
<path d="M299.9 879.5H305.4" stroke="#111" stroke-width="1.2"/>
<path d="M299.9 848.4H305.4" stroke="#111" stroke-width="1.2"/>
<path d="M299.9 817.4H305.4" stroke="#111" stroke-width="1.2"/>
<path d="M299.9 786.3H305.4" stroke="#111" stroke-width="1.2"/>
<path d="M299.9 755.2H305.4" stroke="#111" stroke-width="1.2"/>
<path d="M299.9 724.2H305.4" stroke="#111" stroke-width="1.2"/>
<path d="M320.4 910.5V915.3" stroke="#111" stroke-width="1.2"/>
<path d="M351.2 910.5V915.3" stroke="#111" stroke-width="1.2"/>
<path d="M381.9 910.5V915.3" stroke="#111" stroke-width="1.2"/>
<path d="M412.3 910.5V915.3" stroke="#111" stroke-width="1.2"/>
<path d="M443.5 910.5V915.3" stroke="#111" stroke-width="1.2"/>
<path d="M475 910.5V915.3" stroke="#111" stroke-width="1.2"/>
<text x="293.5" y="913.4" text-anchor="end" font-size="11">0</text>
<text x="293.5" y="883.6" text-anchor="end" font-size="11">50</text>
<text x="293.5" y="852.5" text-anchor="end" font-size="11">100</text>
<text x="293.5" y="821.5" text-anchor="end" font-size="11">150</text>
<text x="293.5" y="790.4" text-anchor="end" font-size="11">200</text>
<text x="293.5" y="759.4" text-anchor="end" font-size="11">250</text>
<text x="293.5" y="728.3" text-anchor="end" font-size="11">300</text>
<text transform="translate(324.9 918.8) rotate(-90)" text-anchor="end" font-size="11">control</text>
<text transform="translate(355.7 918.8) rotate(-90)" text-anchor="end" font-size="11">0.01</text>
<text transform="translate(386.4 918.8) rotate(-90)" text-anchor="end" font-size="11">0.1</text>
<text transform="translate(416.8 918.8) rotate(-90)" text-anchor="end" font-size="11">1</text>
<text transform="translate(448 918.8) rotate(-90)" text-anchor="end" font-size="11">10</text>
<text transform="translate(479.5 918.8) rotate(-90)" text-anchor="end" font-size="11">100</text>
<path d="M320.4 863.1 L351.9 853.5 L381.9 824.2 L412.3 772.7 L443.5 797.7 L475 810.8" stroke="#000" stroke-width="1.7" fill="none" stroke-linejoin="round"/>
<path d="M320.4 860V866.9 M317.3 860h6.2 M317.3 866.9h6.2" stroke="#111" stroke-width="1.1" fill="none"/>
<path d="M381.9 818.5V830 M378.8 818.5h6.2 M378.8 830h6.2" stroke="#111" stroke-width="1.1" fill="none"/>
<path d="M412.3 765.8V779.2 M409.2 765.8h6.2 M409.2 779.2h6.2" stroke="#111" stroke-width="1.1" fill="none"/>
<path d="M443.5 788.8V805.4 M440.4 788.8h6.2 M440.4 805.4h6.2" stroke="#111" stroke-width="1.1" fill="none"/>
<path d="M475 806.9V815.8 M471.9 806.9h6.2 M471.9 815.8h6.2" stroke="#111" stroke-width="1.1" fill="none"/>
<circle cx="320.4" cy="863.1" r="3.4" fill="#000"/>
<circle cx="351.9" cy="853.5" r="3.4" fill="#000"/>
<circle cx="381.9" cy="824.2" r="3.4" fill="#000"/>
<circle cx="412.3" cy="772.7" r="3.4" fill="#000"/>
<circle cx="443.5" cy="797.7" r="3.4" fill="#000"/>
<circle cx="475" cy="810.8" r="3.4" fill="#000"/>
<text x="399" y="970.4" text-anchor="middle" font-size="13.8">MIP-1&#946; (nM)</text>
<path d="M67.1 370.4V434.8 M64.3 434.8H130" stroke="#222" stroke-width="0.8" fill="none"/>
<path d="M64.3 424.1H67.1" stroke="#222" stroke-width="0.7"/>
<path d="M64.3 413.3H67.1" stroke="#222" stroke-width="0.7"/>
<path d="M64.3 402.6H67.1" stroke="#222" stroke-width="0.7"/>
<path d="M64.3 391.9H67.1" stroke="#222" stroke-width="0.7"/>
<path d="M64.3 381.1H67.1" stroke="#222" stroke-width="0.7"/>
<path d="M64.3 370.4H67.1" stroke="#222" stroke-width="0.7"/>
<path d="M74.2 434.8V437.6" stroke="#222" stroke-width="0.7"/>
<path d="M85.5 434.8V437.6" stroke="#222" stroke-width="0.7"/>
<path d="M96.7 434.8V437.6" stroke="#222" stroke-width="0.7"/>
<path d="M107.6 434.8V437.6" stroke="#222" stroke-width="0.7"/>
<path d="M118.9 434.8V437.6" stroke="#222" stroke-width="0.7"/>
<path d="M129.6 434.8V437.6" stroke="#222" stroke-width="0.7"/>
<text x="62.9" y="437.3" text-anchor="end" font-size="5" font-weight="bold">0</text>
<text x="62.9" y="426.6" text-anchor="end" font-size="5" font-weight="bold">50</text>
<text x="62.9" y="415.8" text-anchor="end" font-size="5" font-weight="bold">100</text>
<text x="62.9" y="405.1" text-anchor="end" font-size="5" font-weight="bold">150</text>
<text x="62.9" y="394.4" text-anchor="end" font-size="5" font-weight="bold">200</text>
<text x="62.9" y="383.6" text-anchor="end" font-size="5" font-weight="bold">250</text>
<text x="62.9" y="372.9" text-anchor="end" font-size="5" font-weight="bold">300</text>
<text transform="translate(76.6 441.1) rotate(-90)" text-anchor="end" font-size="5.8" font-weight="bold">0</text>
<text transform="translate(87.9 441.1) rotate(-90)" text-anchor="end" font-size="5.8" font-weight="bold">0.01</text>
<text transform="translate(99.1 441.1) rotate(-90)" text-anchor="end" font-size="5.8" font-weight="bold">0.1</text>
<text transform="translate(110 441.1) rotate(-90)" text-anchor="end" font-size="5.8" font-weight="bold">1</text>
<text transform="translate(121.3 441.1) rotate(-90)" text-anchor="end" font-size="5.8" font-weight="bold">10</text>
<text transform="translate(132 441.1) rotate(-90)" text-anchor="end" font-size="5.8" font-weight="bold">100</text>
<text x="100.6" y="457.2" text-anchor="middle" font-size="5.2" font-weight="bold">Lymphotactin (nM)</text>
<path d="M74.2 429.2 L85.5 421.4 L96.7 418.8 L107.6 399.5 L118.9 386 L129.6 391.2" stroke="#111" stroke-width="1.15" fill="none"/>
<path d="M74.2 429.2V427 M72.7 427h3" stroke="#222" stroke-width="0.7" fill="none"/>
<path d="M85.5 421.4V413.7 M84 413.7h3" stroke="#222" stroke-width="0.7" fill="none"/>
<path d="M96.7 418.8V410.7 M95.2 410.7h3" stroke="#222" stroke-width="0.7" fill="none"/>
<path d="M107.6 399.5V397.2 M106.1 397.2h3" stroke="#222" stroke-width="0.7" fill="none"/>
<path d="M118.9 386V378.2 M117.4 378.2h3" stroke="#222" stroke-width="0.7" fill="none"/>
<path d="M129.6 391.2V386 M128.1 386h3" stroke="#222" stroke-width="0.7" fill="none"/>
<circle cx="74.2" cy="429.2" r="1.6" fill="#fff" stroke="#111" stroke-width="0.8"/>
<circle cx="85.5" cy="421.4" r="1.6" fill="#fff" stroke="#111" stroke-width="0.8"/>
<circle cx="96.7" cy="418.8" r="1.6" fill="#fff" stroke="#111" stroke-width="0.8"/>
<circle cx="107.6" cy="399.5" r="1.6" fill="#fff" stroke="#111" stroke-width="0.8"/>
<circle cx="118.9" cy="386" r="1.6" fill="#fff" stroke="#111" stroke-width="0.8"/>
<circle cx="129.6" cy="391.2" r="1.6" fill="#fff" stroke="#111" stroke-width="0.8"/>
<path d="M320.9 369.5V434.1 M318.1 434.1H384.7" stroke="#222" stroke-width="0.8" fill="none"/>
<path d="M318.1 423.3H320.9" stroke="#222" stroke-width="0.7"/>
<path d="M318.1 412.6H320.9" stroke="#222" stroke-width="0.7"/>
<path d="M318.1 401.8H320.9" stroke="#222" stroke-width="0.7"/>
<path d="M318.1 391H320.9" stroke="#222" stroke-width="0.7"/>
<path d="M318.1 380.3H320.9" stroke="#222" stroke-width="0.7"/>
<path d="M318.1 369.5H320.9" stroke="#222" stroke-width="0.7"/>
<path d="M328.9 434.1V436.9" stroke="#222" stroke-width="0.7"/>
<path d="M340.5 434.1V436.9" stroke="#222" stroke-width="0.7"/>
<path d="M350.9 434.1V436.9" stroke="#222" stroke-width="0.7"/>
<path d="M361.2 434.1V436.9" stroke="#222" stroke-width="0.7"/>
<path d="M373.4 434.1V436.9" stroke="#222" stroke-width="0.7"/>
<path d="M384.3 434.1V436.9" stroke="#222" stroke-width="0.7"/>
<text x="316.7" y="436.6" text-anchor="end" font-size="5" font-weight="bold">0</text>
<text x="316.7" y="425.8" text-anchor="end" font-size="5" font-weight="bold">50</text>
<text x="316.7" y="415.1" text-anchor="end" font-size="5" font-weight="bold">100</text>
<text x="316.7" y="404.3" text-anchor="end" font-size="5" font-weight="bold">150</text>
<text x="316.7" y="393.5" text-anchor="end" font-size="5" font-weight="bold">200</text>
<text x="316.7" y="382.8" text-anchor="end" font-size="5" font-weight="bold">250</text>
<text x="316.7" y="372" text-anchor="end" font-size="5" font-weight="bold">300</text>
<text transform="translate(331.3 440.4) rotate(-90)" text-anchor="end" font-size="5.8" font-weight="bold">0</text>
<text transform="translate(342.9 440.4) rotate(-90)" text-anchor="end" font-size="5.8" font-weight="bold">0.01</text>
<text transform="translate(353.3 440.4) rotate(-90)" text-anchor="end" font-size="5.8" font-weight="bold">0.1</text>
<text transform="translate(363.6 440.4) rotate(-90)" text-anchor="end" font-size="5.8" font-weight="bold">1</text>
<text transform="translate(375.8 440.4) rotate(-90)" text-anchor="end" font-size="5.8" font-weight="bold">10</text>
<text transform="translate(386.7 440.4) rotate(-90)" text-anchor="end" font-size="5.8" font-weight="bold">100</text>
<text x="354.9" y="457" text-anchor="middle" font-size="5.2" font-weight="bold">Lymphotactin (nM)</text>
<path d="M328.9 427.2 L340.5 406.4 L350.9 404.7 L361.2 400.2 L373.4 398.1 L384.3 421.4" stroke="#111" stroke-width="1.15" fill="none"/>
<path d="M340.5 406.4V402.4 M339 402.4h3" stroke="#222" stroke-width="0.7" fill="none"/>
<path d="M350.9 404.7V397.2 M349.4 397.2h3" stroke="#222" stroke-width="0.7" fill="none"/>
<path d="M361.2 400.2V395.5 M359.7 395.5h3" stroke="#222" stroke-width="0.7" fill="none"/>
<path d="M373.4 398.1V387.3 M371.9 387.3h3" stroke="#222" stroke-width="0.7" fill="none"/>
<path d="M384.3 421.4V419.7 M382.8 419.7h3" stroke="#222" stroke-width="0.7" fill="none"/>
<circle cx="328.9" cy="427.2" r="1.6" fill="#fff" stroke="#111" stroke-width="0.8"/>
<circle cx="340.5" cy="406.4" r="1.6" fill="#fff" stroke="#111" stroke-width="0.8"/>
<circle cx="350.9" cy="404.7" r="1.6" fill="#fff" stroke="#111" stroke-width="0.8"/>
<circle cx="361.2" cy="400.2" r="1.6" fill="#fff" stroke="#111" stroke-width="0.8"/>
<circle cx="373.4" cy="398.1" r="1.6" fill="#fff" stroke="#111" stroke-width="0.8"/>
<circle cx="384.3" cy="421.4" r="1.6" fill="#fff" stroke="#111" stroke-width="0.8"/>
<path d="M68.2 677.8V741.8 M65.4 741.8H131.7" stroke="#222" stroke-width="0.8" fill="none"/>
<path d="M65.4 731.1H68.2" stroke="#222" stroke-width="0.7"/>
<path d="M65.4 720.5H68.2" stroke="#222" stroke-width="0.7"/>
<path d="M65.4 709.8H68.2" stroke="#222" stroke-width="0.7"/>
<path d="M65.4 699.1H68.2" stroke="#222" stroke-width="0.7"/>
<path d="M65.4 688.5H68.2" stroke="#222" stroke-width="0.7"/>
<path d="M65.4 677.8H68.2" stroke="#222" stroke-width="0.7"/>
<path d="M76.3 741.8V744.6" stroke="#222" stroke-width="0.7"/>
<path d="M87.6 741.8V744.6" stroke="#222" stroke-width="0.7"/>
<path d="M98.8 741.8V744.6" stroke="#222" stroke-width="0.7"/>
<path d="M109.4 741.8V744.6" stroke="#222" stroke-width="0.7"/>
<path d="M121 741.8V744.6" stroke="#222" stroke-width="0.7"/>
<path d="M131.3 741.8V744.6" stroke="#222" stroke-width="0.7"/>
<text x="64" y="744.3" text-anchor="end" font-size="5" font-weight="bold">0</text>
<text x="64" y="733.6" text-anchor="end" font-size="5" font-weight="bold">50</text>
<text x="64" y="723" text-anchor="end" font-size="5" font-weight="bold">100</text>
<text x="64" y="712.3" text-anchor="end" font-size="5" font-weight="bold">150</text>
<text x="64" y="701.6" text-anchor="end" font-size="5" font-weight="bold">200</text>
<text x="64" y="691" text-anchor="end" font-size="5" font-weight="bold">250</text>
<text x="64" y="680.3" text-anchor="end" font-size="5" font-weight="bold">300</text>
<text transform="translate(78.7 748.1) rotate(-90)" text-anchor="end" font-size="5.8" font-weight="bold">0</text>
<text transform="translate(90 748.1) rotate(-90)" text-anchor="end" font-size="5.8" font-weight="bold">0.01</text>
<text transform="translate(101.2 748.1) rotate(-90)" text-anchor="end" font-size="5.8" font-weight="bold">0.1</text>
<text transform="translate(111.8 748.1) rotate(-90)" text-anchor="end" font-size="5.8" font-weight="bold">1</text>
<text transform="translate(123.4 748.1) rotate(-90)" text-anchor="end" font-size="5.8" font-weight="bold">10</text>
<text transform="translate(133.7 748.1) rotate(-90)" text-anchor="end" font-size="5.8" font-weight="bold">100</text>
<text x="103.2" y="766.3" text-anchor="middle" font-size="5.2" font-weight="bold">Lymphotactin (nM)</text>
<path d="M76.3 731.4 L87.6 702.5 L98.8 692 L109.4 683.8 L121 690.2 L131.3 702" stroke="#111" stroke-width="1.15" fill="none"/>
<path d="M76.3 731.4V726.8 M74.8 726.8h3" stroke="#222" stroke-width="0.7" fill="none"/>
<path d="M87.6 702.5V691.6 M86.1 691.6h3" stroke="#222" stroke-width="0.7" fill="none"/>
<path d="M98.8 692V687.3 M97.3 687.3h3" stroke="#222" stroke-width="0.7" fill="none"/>
<path d="M109.4 683.8V681.8 M107.9 681.8h3" stroke="#222" stroke-width="0.7" fill="none"/>
<path d="M121 690.2V684.7 M119.5 684.7h3" stroke="#222" stroke-width="0.7" fill="none"/>
<path d="M131.3 702V697.3 M129.8 697.3h3" stroke="#222" stroke-width="0.7" fill="none"/>
<circle cx="76.3" cy="731.4" r="1.6" fill="#fff" stroke="#111" stroke-width="0.8"/>
<circle cx="87.6" cy="702.5" r="1.6" fill="#fff" stroke="#111" stroke-width="0.8"/>
<circle cx="98.8" cy="692" r="1.6" fill="#fff" stroke="#111" stroke-width="0.8"/>
<circle cx="109.4" cy="683.8" r="1.6" fill="#fff" stroke="#111" stroke-width="0.8"/>
<circle cx="121" cy="690.2" r="1.6" fill="#fff" stroke="#111" stroke-width="0.8"/>
<circle cx="131.3" cy="702" r="1.6" fill="#fff" stroke="#111" stroke-width="0.8"/>
<path d="M322 678.7V742.7 M319.2 742.7H385.9" stroke="#222" stroke-width="0.8" fill="none"/>
<path d="M319.2 732H322" stroke="#222" stroke-width="0.7"/>
<path d="M319.2 721.4H322" stroke="#222" stroke-width="0.7"/>
<path d="M319.2 710.7H322" stroke="#222" stroke-width="0.7"/>
<path d="M319.2 700H322" stroke="#222" stroke-width="0.7"/>
<path d="M319.2 689.4H322" stroke="#222" stroke-width="0.7"/>
<path d="M319.2 678.7H322" stroke="#222" stroke-width="0.7"/>
<path d="M330.1 742.7V745.5" stroke="#222" stroke-width="0.7"/>
<path d="M341.3 742.7V745.5" stroke="#222" stroke-width="0.7"/>
<path d="M351.7 742.7V745.5" stroke="#222" stroke-width="0.7"/>
<path d="M362.6 742.7V745.5" stroke="#222" stroke-width="0.7"/>
<path d="M374.2 742.7V745.5" stroke="#222" stroke-width="0.7"/>
<path d="M385.5 742.7V745.5" stroke="#222" stroke-width="0.7"/>
<text x="317.8" y="745.2" text-anchor="end" font-size="5" font-weight="bold">0</text>
<text x="317.8" y="734.5" text-anchor="end" font-size="5" font-weight="bold">50</text>
<text x="317.8" y="723.9" text-anchor="end" font-size="5" font-weight="bold">100</text>
<text x="317.8" y="713.2" text-anchor="end" font-size="5" font-weight="bold">150</text>
<text x="317.8" y="702.5" text-anchor="end" font-size="5" font-weight="bold">200</text>
<text x="317.8" y="691.9" text-anchor="end" font-size="5" font-weight="bold">250</text>
<text x="317.8" y="681.2" text-anchor="end" font-size="5" font-weight="bold">300</text>
<text transform="translate(332.5 749) rotate(-90)" text-anchor="end" font-size="5.8" font-weight="bold">0</text>
<text transform="translate(343.7 749) rotate(-90)" text-anchor="end" font-size="5.8" font-weight="bold">0.01</text>
<text transform="translate(354.1 749) rotate(-90)" text-anchor="end" font-size="5.8" font-weight="bold">0.1</text>
<text transform="translate(365 749) rotate(-90)" text-anchor="end" font-size="5.8" font-weight="bold">1</text>
<text transform="translate(376.6 749) rotate(-90)" text-anchor="end" font-size="5.8" font-weight="bold">10</text>
<text transform="translate(387.9 749) rotate(-90)" text-anchor="end" font-size="5.8" font-weight="bold">100</text>
<text x="357" y="766.6" text-anchor="middle" font-size="5.2" font-weight="bold">Lymphotactin (nM)</text>
<path d="M330.1 725.4 L341.3 706.9 L351.7 682.1 L362.6 684.2 L374.2 709.8 L385.5 717.1" stroke="#111" stroke-width="1.15" fill="none"/>
<path d="M330.1 725.4V717.6 M328.6 717.6h3" stroke="#222" stroke-width="0.7" fill="none"/>
<path d="M341.3 706.9V703.7 M339.8 703.7h3" stroke="#222" stroke-width="0.7" fill="none"/>
<path d="M351.7 682.1V677.3 M350.2 677.3h3" stroke="#222" stroke-width="0.7" fill="none"/>
<path d="M362.6 684.2V676.4 M361.1 676.4h3" stroke="#222" stroke-width="0.7" fill="none"/>
<path d="M374.2 709.8V705.5 M372.7 705.5h3" stroke="#222" stroke-width="0.7" fill="none"/>
<path d="M385.5 717.1V707.2 M384 707.2h3" stroke="#222" stroke-width="0.7" fill="none"/>
<circle cx="330.1" cy="725.4" r="1.6" fill="#fff" stroke="#111" stroke-width="0.8"/>
<circle cx="341.3" cy="706.9" r="1.6" fill="#fff" stroke="#111" stroke-width="0.8"/>
<circle cx="351.7" cy="682.1" r="1.6" fill="#fff" stroke="#111" stroke-width="0.8"/>
<circle cx="362.6" cy="684.2" r="1.6" fill="#fff" stroke="#111" stroke-width="0.8"/>
<circle cx="374.2" cy="709.8" r="1.6" fill="#fff" stroke="#111" stroke-width="0.8"/>
<circle cx="385.5" cy="717.1" r="1.6" fill="#fff" stroke="#111" stroke-width="0.8"/>
<g font-weight="bold" font-size="18">
<text x="153.6" y="414.6">CD4</text><text x="190.4" y="410.6" font-size="17">+</text>
<text x="417.7" y="413.5">CD4</text><text x="454.8" y="409.5" font-size="17">+</text><text x="464.4" y="413.5">/</text><text x="469.6" y="413.5">CD8</text><text x="505.6" y="409.5" font-size="17">+</text>
<text x="154.9" y="738">CD4</text><text x="191.5" y="732.8">-</text><text x="195.8" y="737.5">/</text><text x="200.5" y="738">CD8</text><text x="238.1" y="732.9">-</text>
<text x="419.4" y="737.2">CD8</text><text x="456" y="733.8" font-size="17">+</text>
</g>
</svg>
</body></html>
